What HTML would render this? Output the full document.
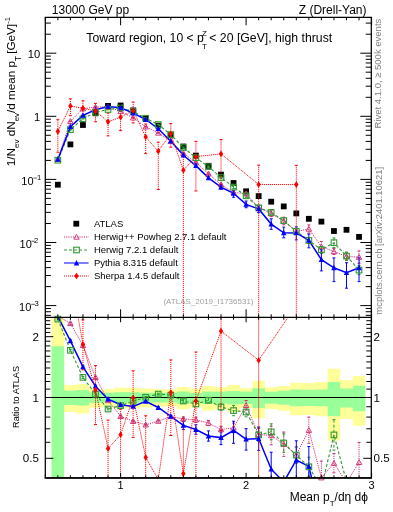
<!DOCTYPE html><html><head><meta charset="utf-8"><style>html,body{margin:0;padding:0;background:#fff;width:393px;height:512px;overflow:hidden}svg{display:block;will-change:transform}text{font-family:"Liberation Sans",sans-serif}</style></head><body>
<svg width="393" height="512" viewBox="0 0 393 512">
<defs><clipPath id="cu"><rect x="45.3" y="17.3" width="326.0" height="300.0"/></clipPath><clipPath id="cr"><rect x="45.3" y="317.3" width="326.0" height="160.5"/></clipPath></defs>
<g clip-path="url(#cr)">
<path d="M51.57,275.88 L64.12,275.88 L64.12,385.01 L76.67,385.01 L76.67,384.03 L89.22,384.03 L89.22,388.34 L101.78,388.34 L101.77,389.30 L114.33,389.30 L114.32,387.71 L126.88,387.71 L126.88,387.71 L139.43,387.71 L139.42,388.42 L151.97,388.42 L151.97,388.98 L164.53,388.98 L164.52,389.62 L177.07,389.62 L177.07,387.09 L189.62,387.09 L189.62,388.82 L202.18,388.82 L202.18,386.01 L214.73,386.01 L214.73,387.32 L227.28,387.32 L227.27,385.01 L239.82,385.01 L239.82,388.19 L252.38,388.19 L252.38,380.70 L264.93,380.70 L264.93,387.32 L277.48,387.32 L277.48,386.01 L290.02,386.01 L290.03,382.76 L302.57,382.76 L302.58,382.91 L315.12,382.91 L315.13,382.02 L327.68,382.02 L327.68,368.80 L340.23,368.80 L340.23,380.20 L352.77,380.20 L352.78,376.12 L365.32,376.12 L365.32,425.83 L352.78,425.83 L352.77,419.07 L340.23,419.07 L340.23,440.43 L327.68,440.43 L327.68,416.31 L315.13,416.31 L315.12,415.02 L302.58,415.02 L302.57,415.23 L290.03,415.23 L290.02,410.73 L277.48,410.73 L277.48,409.01 L264.93,409.01 L264.93,418.29 L252.38,418.29 L252.38,407.92 L239.82,407.92 L239.82,412.07 L227.27,412.07 L227.28,409.01 L214.73,409.01 L214.73,410.73 L202.18,410.73 L202.18,407.13 L189.62,407.13 L189.62,409.31 L177.07,409.31 L177.07,406.16 L164.52,406.16 L164.53,406.94 L151.97,406.94 L151.97,407.62 L139.42,407.62 L139.43,408.52 L126.88,408.52 L126.88,408.52 L114.32,408.52 L114.33,406.55 L101.77,406.55 L101.78,407.72 L89.22,407.72 L89.22,413.42 L76.67,413.42 L76.67,412.07 L64.12,412.07 L64.12,600.00 L51.57,600.00 Z" fill="#ffff99"/>
<path d="M51.57,346.33 L64.12,346.33 L64.12,390.59 L76.67,390.59 L76.67,390.10 L89.22,390.10 L89.22,392.22 L101.78,392.22 L101.77,392.80 L114.33,392.80 L114.32,392.22 L126.88,392.22 L126.88,392.22 L139.43,392.22 L139.42,392.80 L151.97,392.80 L151.97,392.80 L164.53,392.80 L164.52,392.80 L177.07,392.80 L177.07,391.48 L189.62,391.48 L189.62,392.97 L202.18,392.97 L202.18,391.48 L214.73,391.48 L214.73,391.81 L227.28,391.81 L227.27,391.07 L239.82,391.07 L239.82,391.40 L252.38,391.40 L252.38,388.19 L264.93,388.19 L264.93,391.73 L277.48,391.73 L277.48,390.83 L290.02,390.83 L290.03,389.62 L302.57,389.62 L302.58,389.70 L315.12,389.70 L315.13,389.54 L327.68,389.54 L327.68,382.02 L340.23,382.02 L340.23,388.42 L352.77,388.42 L352.78,385.70 L365.32,385.70 L365.32,411.14 L352.78,411.14 L352.77,407.62 L340.23,407.62 L340.23,416.31 L327.68,416.31 L327.68,406.26 L315.13,406.26 L315.12,406.06 L302.58,406.06 L302.57,406.16 L290.03,406.16 L290.02,404.72 L277.48,404.72 L277.48,403.68 L264.93,403.68 L264.93,407.92 L252.38,407.92 L252.38,404.06 L239.82,404.06 L239.82,404.43 L227.27,404.43 L227.28,403.58 L214.73,403.58 L214.73,403.96 L202.18,403.96 L202.18,402.28 L189.62,402.28 L189.62,403.96 L177.07,403.96 L177.07,402.46 L164.52,402.46 L164.53,402.46 L151.97,402.46 L151.97,402.46 L139.42,402.46 L139.43,403.12 L126.88,403.12 L126.88,403.12 L114.32,403.12 L114.33,402.46 L101.77,402.46 L101.78,403.12 L89.22,403.12 L89.22,405.58 L76.67,405.58 L76.67,405.01 L64.12,405.01 L64.12,535.25 L51.57,535.25 Z" fill="#99ff99"/>
<line x1="45.3" y1="397.5" x2="371.3" y2="397.5" stroke="#000" stroke-width="1.1"/>
</g>
<rect x="54.95" y="181.80" width="5.8" height="5.8" fill="#000"/>
<rect x="67.50" y="141.50" width="5.8" height="5.8" fill="#000"/>
<rect x="80.05" y="122.10" width="5.8" height="5.8" fill="#000"/>
<rect x="92.60" y="110.40" width="5.8" height="5.8" fill="#000"/>
<rect x="105.15" y="103.00" width="5.8" height="5.8" fill="#000"/>
<rect x="117.70" y="102.60" width="5.8" height="5.8" fill="#000"/>
<rect x="130.25" y="107.50" width="5.8" height="5.8" fill="#000"/>
<rect x="142.80" y="115.40" width="5.8" height="5.8" fill="#000"/>
<rect x="155.35" y="122.70" width="5.8" height="5.8" fill="#000"/>
<rect x="167.90" y="132.40" width="5.8" height="5.8" fill="#000"/>
<rect x="180.45" y="143.60" width="5.8" height="5.8" fill="#000"/>
<rect x="193.00" y="152.70" width="5.8" height="5.8" fill="#000"/>
<rect x="205.55" y="162.90" width="5.8" height="5.8" fill="#000"/>
<rect x="218.10" y="171.70" width="5.8" height="5.8" fill="#000"/>
<rect x="230.65" y="180.10" width="5.8" height="5.8" fill="#000"/>
<rect x="243.20" y="188.40" width="5.8" height="5.8" fill="#000"/>
<rect x="255.75" y="193.20" width="5.8" height="5.8" fill="#000"/>
<rect x="268.30" y="198.80" width="5.8" height="5.8" fill="#000"/>
<rect x="280.85" y="203.50" width="5.8" height="5.8" fill="#000"/>
<rect x="293.40" y="210.50" width="5.8" height="5.8" fill="#000"/>
<rect x="305.95" y="215.90" width="5.8" height="5.8" fill="#000"/>
<rect x="318.50" y="218.70" width="5.8" height="5.8" fill="#000"/>
<rect x="331.05" y="228.10" width="5.8" height="5.8" fill="#000"/>
<rect x="343.60" y="226.90" width="5.8" height="5.8" fill="#000"/>
<rect x="356.15" y="234.00" width="5.8" height="5.8" fill="#000"/>
<g clip-path="url(#cr)">
<path d="M57.85,315.87 L70.40,323.40 L82.95,345.30 L95.50,377.40 L108.05,400.50 L120.60,416.30 L133.15,421.30 L145.70,424.80 L158.25,421.10 L170.80,416.50 L183.35,418.90 L195.90,419.80 L208.45,423.00 L221.00,429.50 L233.55,427.90 L246.10,405.30 L258.65,434.40 L271.20,435.50 L283.75,444.20 L296.30,455.00 L308.85,430.20 L321.40,477.70 L333.95,463.20 L346.50,482.65 L359.05,462.30" fill="none" stroke="#cc3377" stroke-width="1.0" stroke-dasharray="1.2,1.0"/>
<line x1="70.40" y1="322.44" x2="70.40" y2="324.36" stroke="#cc3377" stroke-width="1" stroke-dasharray="1.2,1.0"/>
<line x1="68.90" y1="322.44" x2="71.90" y2="322.44" stroke="#cc3377" stroke-width="1"/>
<line x1="68.90" y1="324.36" x2="71.90" y2="324.36" stroke="#cc3377" stroke-width="1"/>
<line x1="82.95" y1="344.34" x2="82.95" y2="346.26" stroke="#cc3377" stroke-width="1" stroke-dasharray="1.2,1.0"/>
<line x1="81.45" y1="344.34" x2="84.45" y2="344.34" stroke="#cc3377" stroke-width="1"/>
<line x1="81.45" y1="346.26" x2="84.45" y2="346.26" stroke="#cc3377" stroke-width="1"/>
<line x1="95.50" y1="376.44" x2="95.50" y2="378.36" stroke="#cc3377" stroke-width="1" stroke-dasharray="1.2,1.0"/>
<line x1="94.00" y1="376.44" x2="97.00" y2="376.44" stroke="#cc3377" stroke-width="1"/>
<line x1="94.00" y1="378.36" x2="97.00" y2="378.36" stroke="#cc3377" stroke-width="1"/>
<line x1="108.05" y1="399.54" x2="108.05" y2="401.46" stroke="#cc3377" stroke-width="1" stroke-dasharray="1.2,1.0"/>
<line x1="106.55" y1="399.54" x2="109.55" y2="399.54" stroke="#cc3377" stroke-width="1"/>
<line x1="106.55" y1="401.46" x2="109.55" y2="401.46" stroke="#cc3377" stroke-width="1"/>
<line x1="120.60" y1="415.34" x2="120.60" y2="417.26" stroke="#cc3377" stroke-width="1" stroke-dasharray="1.2,1.0"/>
<line x1="119.10" y1="415.34" x2="122.10" y2="415.34" stroke="#cc3377" stroke-width="1"/>
<line x1="119.10" y1="417.26" x2="122.10" y2="417.26" stroke="#cc3377" stroke-width="1"/>
<line x1="133.15" y1="420.34" x2="133.15" y2="422.26" stroke="#cc3377" stroke-width="1" stroke-dasharray="1.2,1.0"/>
<line x1="131.65" y1="420.34" x2="134.65" y2="420.34" stroke="#cc3377" stroke-width="1"/>
<line x1="131.65" y1="422.26" x2="134.65" y2="422.26" stroke="#cc3377" stroke-width="1"/>
<line x1="145.70" y1="423.84" x2="145.70" y2="425.76" stroke="#cc3377" stroke-width="1" stroke-dasharray="1.2,1.0"/>
<line x1="144.20" y1="423.84" x2="147.20" y2="423.84" stroke="#cc3377" stroke-width="1"/>
<line x1="144.20" y1="425.76" x2="147.20" y2="425.76" stroke="#cc3377" stroke-width="1"/>
<line x1="158.25" y1="420.14" x2="158.25" y2="422.06" stroke="#cc3377" stroke-width="1" stroke-dasharray="1.2,1.0"/>
<line x1="156.75" y1="420.14" x2="159.75" y2="420.14" stroke="#cc3377" stroke-width="1"/>
<line x1="156.75" y1="422.06" x2="159.75" y2="422.06" stroke="#cc3377" stroke-width="1"/>
<line x1="170.80" y1="415.54" x2="170.80" y2="417.46" stroke="#cc3377" stroke-width="1" stroke-dasharray="1.2,1.0"/>
<line x1="169.30" y1="415.54" x2="172.30" y2="415.54" stroke="#cc3377" stroke-width="1"/>
<line x1="169.30" y1="417.46" x2="172.30" y2="417.46" stroke="#cc3377" stroke-width="1"/>
<line x1="183.35" y1="416.98" x2="183.35" y2="420.82" stroke="#cc3377" stroke-width="1" stroke-dasharray="1.2,1.0"/>
<line x1="181.85" y1="416.98" x2="184.85" y2="416.98" stroke="#cc3377" stroke-width="1"/>
<line x1="181.85" y1="420.82" x2="184.85" y2="420.82" stroke="#cc3377" stroke-width="1"/>
<line x1="195.90" y1="417.24" x2="195.90" y2="422.36" stroke="#cc3377" stroke-width="1" stroke-dasharray="1.2,1.0"/>
<line x1="194.40" y1="417.24" x2="197.40" y2="417.24" stroke="#cc3377" stroke-width="1"/>
<line x1="194.40" y1="422.36" x2="197.40" y2="422.36" stroke="#cc3377" stroke-width="1"/>
<line x1="208.45" y1="420.44" x2="208.45" y2="425.56" stroke="#cc3377" stroke-width="1" stroke-dasharray="1.2,1.0"/>
<line x1="206.95" y1="420.44" x2="209.95" y2="420.44" stroke="#cc3377" stroke-width="1"/>
<line x1="206.95" y1="425.56" x2="209.95" y2="425.56" stroke="#cc3377" stroke-width="1"/>
<line x1="221.00" y1="426.30" x2="221.00" y2="432.70" stroke="#cc3377" stroke-width="1" stroke-dasharray="1.2,1.0"/>
<line x1="219.50" y1="426.30" x2="222.50" y2="426.30" stroke="#cc3377" stroke-width="1"/>
<line x1="219.50" y1="432.70" x2="222.50" y2="432.70" stroke="#cc3377" stroke-width="1"/>
<line x1="233.55" y1="423.10" x2="233.55" y2="432.70" stroke="#cc3377" stroke-width="1" stroke-dasharray="1.2,1.0"/>
<line x1="232.05" y1="423.10" x2="235.05" y2="423.10" stroke="#cc3377" stroke-width="1"/>
<line x1="232.05" y1="432.70" x2="235.05" y2="432.70" stroke="#cc3377" stroke-width="1"/>
<line x1="246.10" y1="400.50" x2="246.10" y2="410.10" stroke="#cc3377" stroke-width="1" stroke-dasharray="1.2,1.0"/>
<line x1="244.60" y1="400.50" x2="247.60" y2="400.50" stroke="#cc3377" stroke-width="1"/>
<line x1="244.60" y1="410.10" x2="247.60" y2="410.10" stroke="#cc3377" stroke-width="1"/>
<line x1="258.65" y1="428.00" x2="258.65" y2="440.80" stroke="#cc3377" stroke-width="1" stroke-dasharray="1.2,1.0"/>
<line x1="257.15" y1="428.00" x2="260.15" y2="428.00" stroke="#cc3377" stroke-width="1"/>
<line x1="257.15" y1="440.80" x2="260.15" y2="440.80" stroke="#cc3377" stroke-width="1"/>
<line x1="271.20" y1="426.22" x2="271.20" y2="444.78" stroke="#cc3377" stroke-width="1" stroke-dasharray="1.2,1.0"/>
<line x1="269.70" y1="426.22" x2="272.70" y2="426.22" stroke="#cc3377" stroke-width="1"/>
<line x1="269.70" y1="444.78" x2="272.70" y2="444.78" stroke="#cc3377" stroke-width="1"/>
<line x1="283.75" y1="432.04" x2="283.75" y2="456.36" stroke="#cc3377" stroke-width="1" stroke-dasharray="1.2,1.0"/>
<line x1="282.25" y1="432.04" x2="285.25" y2="432.04" stroke="#cc3377" stroke-width="1"/>
<line x1="282.25" y1="456.36" x2="285.25" y2="456.36" stroke="#cc3377" stroke-width="1"/>
<line x1="296.30" y1="447.00" x2="296.30" y2="463.00" stroke="#cc3377" stroke-width="1" stroke-dasharray="1.2,1.0"/>
<line x1="294.80" y1="447.00" x2="297.80" y2="447.00" stroke="#cc3377" stroke-width="1"/>
<line x1="294.80" y1="463.00" x2="297.80" y2="463.00" stroke="#cc3377" stroke-width="1"/>
<line x1="308.85" y1="417.07" x2="308.85" y2="443.33" stroke="#cc3377" stroke-width="1" stroke-dasharray="1.2,1.0"/>
<line x1="307.35" y1="417.07" x2="310.35" y2="417.07" stroke="#cc3377" stroke-width="1"/>
<line x1="307.35" y1="443.33" x2="310.35" y2="443.33" stroke="#cc3377" stroke-width="1"/>
<line x1="321.40" y1="461.05" x2="321.40" y2="494.35" stroke="#cc3377" stroke-width="1" stroke-dasharray="1.2,1.0"/>
<line x1="319.90" y1="461.05" x2="322.90" y2="461.05" stroke="#cc3377" stroke-width="1"/>
<line x1="319.90" y1="494.35" x2="322.90" y2="494.35" stroke="#cc3377" stroke-width="1"/>
<line x1="333.95" y1="453.60" x2="333.95" y2="472.80" stroke="#cc3377" stroke-width="1" stroke-dasharray="1.2,1.0"/>
<line x1="332.45" y1="453.60" x2="335.45" y2="453.60" stroke="#cc3377" stroke-width="1"/>
<line x1="332.45" y1="472.80" x2="335.45" y2="472.80" stroke="#cc3377" stroke-width="1"/>
<line x1="359.05" y1="442.45" x2="359.05" y2="482.15" stroke="#cc3377" stroke-width="1" stroke-dasharray="1.2,1.0"/>
<line x1="357.55" y1="442.45" x2="360.55" y2="442.45" stroke="#cc3377" stroke-width="1"/>
<line x1="357.55" y1="482.15" x2="360.55" y2="482.15" stroke="#cc3377" stroke-width="1"/>
</g>
<g clip-path="url(#cr)">
<path d="M57.85,319.10 L70.40,350.30 L82.95,377.40 L95.50,394.20 L108.05,409.00 L120.60,405.60 L133.15,401.20 L145.70,397.30 L158.25,394.10 L170.80,395.10 L183.35,401.00 L195.90,404.00 L208.45,400.30 L221.00,407.00 L233.55,410.60 L246.10,412.00 L258.65,435.00 L271.20,431.80 L283.75,443.00 L296.30,455.10 L308.85,466.80 L321.40,487.78 L333.95,434.90 L346.50,481.69 L359.05,503.78" fill="none" stroke="#339933" stroke-width="1.1" stroke-dasharray="3,2"/>
<line x1="57.85" y1="318.14" x2="57.85" y2="320.06" stroke="#339933" stroke-width="1" stroke-dasharray="3,2"/>
<line x1="56.35" y1="318.14" x2="59.35" y2="318.14" stroke="#339933" stroke-width="1"/>
<line x1="56.35" y1="320.06" x2="59.35" y2="320.06" stroke="#339933" stroke-width="1"/>
<line x1="70.40" y1="349.34" x2="70.40" y2="351.26" stroke="#339933" stroke-width="1" stroke-dasharray="3,2"/>
<line x1="68.90" y1="349.34" x2="71.90" y2="349.34" stroke="#339933" stroke-width="1"/>
<line x1="68.90" y1="351.26" x2="71.90" y2="351.26" stroke="#339933" stroke-width="1"/>
<line x1="82.95" y1="376.44" x2="82.95" y2="378.36" stroke="#339933" stroke-width="1" stroke-dasharray="3,2"/>
<line x1="81.45" y1="376.44" x2="84.45" y2="376.44" stroke="#339933" stroke-width="1"/>
<line x1="81.45" y1="378.36" x2="84.45" y2="378.36" stroke="#339933" stroke-width="1"/>
<line x1="95.50" y1="393.24" x2="95.50" y2="395.16" stroke="#339933" stroke-width="1" stroke-dasharray="3,2"/>
<line x1="94.00" y1="393.24" x2="97.00" y2="393.24" stroke="#339933" stroke-width="1"/>
<line x1="94.00" y1="395.16" x2="97.00" y2="395.16" stroke="#339933" stroke-width="1"/>
<line x1="108.05" y1="408.04" x2="108.05" y2="409.96" stroke="#339933" stroke-width="1" stroke-dasharray="3,2"/>
<line x1="106.55" y1="408.04" x2="109.55" y2="408.04" stroke="#339933" stroke-width="1"/>
<line x1="106.55" y1="409.96" x2="109.55" y2="409.96" stroke="#339933" stroke-width="1"/>
<line x1="120.60" y1="404.64" x2="120.60" y2="406.56" stroke="#339933" stroke-width="1" stroke-dasharray="3,2"/>
<line x1="119.10" y1="404.64" x2="122.10" y2="404.64" stroke="#339933" stroke-width="1"/>
<line x1="119.10" y1="406.56" x2="122.10" y2="406.56" stroke="#339933" stroke-width="1"/>
<line x1="133.15" y1="400.24" x2="133.15" y2="402.16" stroke="#339933" stroke-width="1" stroke-dasharray="3,2"/>
<line x1="131.65" y1="400.24" x2="134.65" y2="400.24" stroke="#339933" stroke-width="1"/>
<line x1="131.65" y1="402.16" x2="134.65" y2="402.16" stroke="#339933" stroke-width="1"/>
<line x1="145.70" y1="396.34" x2="145.70" y2="398.26" stroke="#339933" stroke-width="1" stroke-dasharray="3,2"/>
<line x1="144.20" y1="396.34" x2="147.20" y2="396.34" stroke="#339933" stroke-width="1"/>
<line x1="144.20" y1="398.26" x2="147.20" y2="398.26" stroke="#339933" stroke-width="1"/>
<line x1="158.25" y1="393.14" x2="158.25" y2="395.06" stroke="#339933" stroke-width="1" stroke-dasharray="3,2"/>
<line x1="156.75" y1="393.14" x2="159.75" y2="393.14" stroke="#339933" stroke-width="1"/>
<line x1="156.75" y1="395.06" x2="159.75" y2="395.06" stroke="#339933" stroke-width="1"/>
<line x1="170.80" y1="394.14" x2="170.80" y2="396.06" stroke="#339933" stroke-width="1" stroke-dasharray="3,2"/>
<line x1="169.30" y1="394.14" x2="172.30" y2="394.14" stroke="#339933" stroke-width="1"/>
<line x1="169.30" y1="396.06" x2="172.30" y2="396.06" stroke="#339933" stroke-width="1"/>
<line x1="183.35" y1="399.08" x2="183.35" y2="402.92" stroke="#339933" stroke-width="1" stroke-dasharray="3,2"/>
<line x1="181.85" y1="399.08" x2="184.85" y2="399.08" stroke="#339933" stroke-width="1"/>
<line x1="181.85" y1="402.92" x2="184.85" y2="402.92" stroke="#339933" stroke-width="1"/>
<line x1="195.90" y1="401.44" x2="195.90" y2="406.56" stroke="#339933" stroke-width="1" stroke-dasharray="3,2"/>
<line x1="194.40" y1="401.44" x2="197.40" y2="401.44" stroke="#339933" stroke-width="1"/>
<line x1="194.40" y1="406.56" x2="197.40" y2="406.56" stroke="#339933" stroke-width="1"/>
<line x1="208.45" y1="397.74" x2="208.45" y2="402.86" stroke="#339933" stroke-width="1" stroke-dasharray="3,2"/>
<line x1="206.95" y1="397.74" x2="209.95" y2="397.74" stroke="#339933" stroke-width="1"/>
<line x1="206.95" y1="402.86" x2="209.95" y2="402.86" stroke="#339933" stroke-width="1"/>
<line x1="221.00" y1="403.80" x2="221.00" y2="410.20" stroke="#339933" stroke-width="1" stroke-dasharray="3,2"/>
<line x1="219.50" y1="403.80" x2="222.50" y2="403.80" stroke="#339933" stroke-width="1"/>
<line x1="219.50" y1="410.20" x2="222.50" y2="410.20" stroke="#339933" stroke-width="1"/>
<line x1="233.55" y1="405.48" x2="233.55" y2="415.72" stroke="#339933" stroke-width="1" stroke-dasharray="3,2"/>
<line x1="232.05" y1="405.48" x2="235.05" y2="405.48" stroke="#339933" stroke-width="1"/>
<line x1="232.05" y1="415.72" x2="235.05" y2="415.72" stroke="#339933" stroke-width="1"/>
<line x1="246.10" y1="407.20" x2="246.10" y2="416.80" stroke="#339933" stroke-width="1" stroke-dasharray="3,2"/>
<line x1="244.60" y1="407.20" x2="247.60" y2="407.20" stroke="#339933" stroke-width="1"/>
<line x1="244.60" y1="416.80" x2="247.60" y2="416.80" stroke="#339933" stroke-width="1"/>
<line x1="258.65" y1="428.60" x2="258.65" y2="441.40" stroke="#339933" stroke-width="1" stroke-dasharray="3,2"/>
<line x1="257.15" y1="428.60" x2="260.15" y2="428.60" stroke="#339933" stroke-width="1"/>
<line x1="257.15" y1="441.40" x2="260.15" y2="441.40" stroke="#339933" stroke-width="1"/>
<line x1="271.20" y1="423.80" x2="271.20" y2="439.80" stroke="#339933" stroke-width="1" stroke-dasharray="3,2"/>
<line x1="269.70" y1="423.80" x2="272.70" y2="423.80" stroke="#339933" stroke-width="1"/>
<line x1="269.70" y1="439.80" x2="272.70" y2="439.80" stroke="#339933" stroke-width="1"/>
<line x1="283.75" y1="433.72" x2="283.75" y2="452.28" stroke="#339933" stroke-width="1" stroke-dasharray="3,2"/>
<line x1="282.25" y1="433.72" x2="285.25" y2="433.72" stroke="#339933" stroke-width="1"/>
<line x1="282.25" y1="452.28" x2="285.25" y2="452.28" stroke="#339933" stroke-width="1"/>
<line x1="296.30" y1="447.10" x2="296.30" y2="463.10" stroke="#339933" stroke-width="1" stroke-dasharray="3,2"/>
<line x1="294.80" y1="447.10" x2="297.80" y2="447.10" stroke="#339933" stroke-width="1"/>
<line x1="294.80" y1="463.10" x2="297.80" y2="463.10" stroke="#339933" stroke-width="1"/>
<line x1="308.85" y1="457.20" x2="308.85" y2="476.40" stroke="#339933" stroke-width="1" stroke-dasharray="3,2"/>
<line x1="307.35" y1="457.20" x2="310.35" y2="457.20" stroke="#339933" stroke-width="1"/>
<line x1="307.35" y1="476.40" x2="310.35" y2="476.40" stroke="#339933" stroke-width="1"/>
<line x1="333.95" y1="419.69" x2="333.95" y2="450.11" stroke="#339933" stroke-width="1" stroke-dasharray="3,2"/>
<line x1="332.45" y1="419.69" x2="335.45" y2="419.69" stroke="#339933" stroke-width="1"/>
<line x1="332.45" y1="450.11" x2="335.45" y2="450.11" stroke="#339933" stroke-width="1"/>
</g>
<g clip-path="url(#cr)">
<path d="M57.85,316.50 L70.40,340.80 L82.95,366.80 L95.50,386.20 L108.05,399.20 L120.60,404.80 L133.15,406.40 L145.70,401.30 L158.25,407.50 L170.80,416.40 L183.35,425.40 L195.90,429.50 L208.45,436.00 L221.00,437.60 L233.55,430.50 L246.10,439.20 L258.65,438.50 L271.20,469.20 L283.75,482.00 L296.30,460.00 L308.85,466.40 L321.40,519.15 L333.95,515.31 L346.50,534.51 L359.05,496.42" fill="none" stroke="#0000ff" stroke-width="1.5"/>
<line x1="70.40" y1="339.84" x2="70.40" y2="341.76" stroke="#0000ff" stroke-width="1"/>
<line x1="68.90" y1="339.84" x2="71.90" y2="339.84" stroke="#0000ff" stroke-width="1"/>
<line x1="68.90" y1="341.76" x2="71.90" y2="341.76" stroke="#0000ff" stroke-width="1"/>
<line x1="82.95" y1="365.84" x2="82.95" y2="367.76" stroke="#0000ff" stroke-width="1"/>
<line x1="81.45" y1="365.84" x2="84.45" y2="365.84" stroke="#0000ff" stroke-width="1"/>
<line x1="81.45" y1="367.76" x2="84.45" y2="367.76" stroke="#0000ff" stroke-width="1"/>
<line x1="95.50" y1="385.24" x2="95.50" y2="387.16" stroke="#0000ff" stroke-width="1"/>
<line x1="94.00" y1="385.24" x2="97.00" y2="385.24" stroke="#0000ff" stroke-width="1"/>
<line x1="94.00" y1="387.16" x2="97.00" y2="387.16" stroke="#0000ff" stroke-width="1"/>
<line x1="108.05" y1="398.24" x2="108.05" y2="400.16" stroke="#0000ff" stroke-width="1"/>
<line x1="106.55" y1="398.24" x2="109.55" y2="398.24" stroke="#0000ff" stroke-width="1"/>
<line x1="106.55" y1="400.16" x2="109.55" y2="400.16" stroke="#0000ff" stroke-width="1"/>
<line x1="120.60" y1="403.84" x2="120.60" y2="405.76" stroke="#0000ff" stroke-width="1"/>
<line x1="119.10" y1="403.84" x2="122.10" y2="403.84" stroke="#0000ff" stroke-width="1"/>
<line x1="119.10" y1="405.76" x2="122.10" y2="405.76" stroke="#0000ff" stroke-width="1"/>
<line x1="133.15" y1="405.44" x2="133.15" y2="407.36" stroke="#0000ff" stroke-width="1"/>
<line x1="131.65" y1="405.44" x2="134.65" y2="405.44" stroke="#0000ff" stroke-width="1"/>
<line x1="131.65" y1="407.36" x2="134.65" y2="407.36" stroke="#0000ff" stroke-width="1"/>
<line x1="145.70" y1="400.34" x2="145.70" y2="402.26" stroke="#0000ff" stroke-width="1"/>
<line x1="144.20" y1="400.34" x2="147.20" y2="400.34" stroke="#0000ff" stroke-width="1"/>
<line x1="144.20" y1="402.26" x2="147.20" y2="402.26" stroke="#0000ff" stroke-width="1"/>
<line x1="158.25" y1="406.54" x2="158.25" y2="408.46" stroke="#0000ff" stroke-width="1"/>
<line x1="156.75" y1="406.54" x2="159.75" y2="406.54" stroke="#0000ff" stroke-width="1"/>
<line x1="156.75" y1="408.46" x2="159.75" y2="408.46" stroke="#0000ff" stroke-width="1"/>
<line x1="170.80" y1="415.44" x2="170.80" y2="417.36" stroke="#0000ff" stroke-width="1"/>
<line x1="169.30" y1="415.44" x2="172.30" y2="415.44" stroke="#0000ff" stroke-width="1"/>
<line x1="169.30" y1="417.36" x2="172.30" y2="417.36" stroke="#0000ff" stroke-width="1"/>
<line x1="183.35" y1="421.40" x2="183.35" y2="429.40" stroke="#0000ff" stroke-width="1"/>
<line x1="181.85" y1="421.40" x2="184.85" y2="421.40" stroke="#0000ff" stroke-width="1"/>
<line x1="181.85" y1="429.40" x2="184.85" y2="429.40" stroke="#0000ff" stroke-width="1"/>
<line x1="195.90" y1="424.70" x2="195.90" y2="434.30" stroke="#0000ff" stroke-width="1"/>
<line x1="194.40" y1="424.70" x2="197.40" y2="424.70" stroke="#0000ff" stroke-width="1"/>
<line x1="194.40" y1="434.30" x2="197.40" y2="434.30" stroke="#0000ff" stroke-width="1"/>
<line x1="208.45" y1="430.88" x2="208.45" y2="441.12" stroke="#0000ff" stroke-width="1"/>
<line x1="206.95" y1="430.88" x2="209.95" y2="430.88" stroke="#0000ff" stroke-width="1"/>
<line x1="206.95" y1="441.12" x2="209.95" y2="441.12" stroke="#0000ff" stroke-width="1"/>
<line x1="221.00" y1="430.56" x2="221.00" y2="444.64" stroke="#0000ff" stroke-width="1"/>
<line x1="219.50" y1="430.56" x2="222.50" y2="430.56" stroke="#0000ff" stroke-width="1"/>
<line x1="219.50" y1="444.64" x2="222.50" y2="444.64" stroke="#0000ff" stroke-width="1"/>
<line x1="233.55" y1="421.22" x2="233.55" y2="443.31" stroke="#0000ff" stroke-width="1"/>
<line x1="232.05" y1="421.22" x2="235.05" y2="421.22" stroke="#0000ff" stroke-width="1"/>
<line x1="232.05" y1="443.31" x2="235.05" y2="443.31" stroke="#0000ff" stroke-width="1"/>
<line x1="246.10" y1="428.64" x2="246.10" y2="450.08" stroke="#0000ff" stroke-width="1"/>
<line x1="244.60" y1="428.64" x2="247.60" y2="428.64" stroke="#0000ff" stroke-width="1"/>
<line x1="244.60" y1="450.08" x2="247.60" y2="450.08" stroke="#0000ff" stroke-width="1"/>
<line x1="258.65" y1="426.98" x2="258.65" y2="450.34" stroke="#0000ff" stroke-width="1"/>
<line x1="257.15" y1="426.98" x2="260.15" y2="426.98" stroke="#0000ff" stroke-width="1"/>
<line x1="257.15" y1="450.34" x2="260.15" y2="450.34" stroke="#0000ff" stroke-width="1"/>
<line x1="271.20" y1="452.23" x2="271.20" y2="485.85" stroke="#0000ff" stroke-width="1"/>
<line x1="269.70" y1="452.23" x2="272.70" y2="452.23" stroke="#0000ff" stroke-width="1"/>
<line x1="269.70" y1="485.85" x2="272.70" y2="485.85" stroke="#0000ff" stroke-width="1"/>
<line x1="296.30" y1="440.79" x2="296.30" y2="482.41" stroke="#0000ff" stroke-width="1"/>
<line x1="294.80" y1="440.79" x2="297.80" y2="440.79" stroke="#0000ff" stroke-width="1"/>
<line x1="294.80" y1="482.41" x2="297.80" y2="482.41" stroke="#0000ff" stroke-width="1"/>
<line x1="308.85" y1="446.55" x2="308.85" y2="490.41" stroke="#0000ff" stroke-width="1"/>
<line x1="307.35" y1="446.55" x2="310.35" y2="446.55" stroke="#0000ff" stroke-width="1"/>
<line x1="307.35" y1="490.41" x2="310.35" y2="490.41" stroke="#0000ff" stroke-width="1"/>
</g>
<g clip-path="url(#cr)">
<path d="M57.85,226.87 L70.40,274.57 L82.95,344.20 L95.50,390.00 L108.05,448.60 L120.60,434.80 L133.15,397.70 L145.70,457.40 L158.25,479.50 L170.80,392.60 L183.35,473.60 L195.90,401.00 L221.00,331.10 L258.65,360.20 L296.30,305.30" fill="none" stroke="#ff0000" stroke-width="1.0" stroke-dasharray="1.1,0.9"/>
<line x1="82.95" y1="319.87" x2="82.95" y2="369.81" stroke="#ff0000" stroke-width="1" stroke-dasharray="1.1,0.9"/>
<line x1="81.45" y1="319.87" x2="84.45" y2="319.87" stroke="#ff0000" stroke-width="1"/>
<line x1="81.45" y1="369.81" x2="84.45" y2="369.81" stroke="#ff0000" stroke-width="1"/>
<line x1="95.50" y1="365.67" x2="95.50" y2="424.57" stroke="#ff0000" stroke-width="1" stroke-dasharray="1.1,0.9"/>
<line x1="94.00" y1="365.67" x2="97.00" y2="365.67" stroke="#ff0000" stroke-width="1"/>
<line x1="94.00" y1="424.57" x2="97.00" y2="424.57" stroke="#ff0000" stroke-width="1"/>
<line x1="108.05" y1="420.11" x2="108.05" y2="493.42" stroke="#ff0000" stroke-width="1" stroke-dasharray="1.1,0.9"/>
<line x1="106.55" y1="420.11" x2="109.55" y2="420.11" stroke="#ff0000" stroke-width="1"/>
<line x1="106.55" y1="493.42" x2="109.55" y2="493.42" stroke="#ff0000" stroke-width="1"/>
<line x1="120.60" y1="409.19" x2="120.60" y2="478.02" stroke="#ff0000" stroke-width="1" stroke-dasharray="1.1,0.9"/>
<line x1="119.10" y1="409.19" x2="122.10" y2="409.19" stroke="#ff0000" stroke-width="1"/>
<line x1="119.10" y1="478.02" x2="122.10" y2="478.02" stroke="#ff0000" stroke-width="1"/>
<line x1="133.15" y1="370.81" x2="133.15" y2="437.40" stroke="#ff0000" stroke-width="1" stroke-dasharray="1.1,0.9"/>
<line x1="131.65" y1="370.81" x2="134.65" y2="370.81" stroke="#ff0000" stroke-width="1"/>
<line x1="131.65" y1="437.40" x2="134.65" y2="437.40" stroke="#ff0000" stroke-width="1"/>
<line x1="145.70" y1="415.78" x2="145.70" y2="510.54" stroke="#ff0000" stroke-width="1" stroke-dasharray="1.1,0.9"/>
<line x1="144.20" y1="415.78" x2="147.20" y2="415.78" stroke="#ff0000" stroke-width="1"/>
<line x1="144.20" y1="510.54" x2="147.20" y2="510.54" stroke="#ff0000" stroke-width="1"/>
<line x1="170.80" y1="359.95" x2="170.80" y2="435.50" stroke="#ff0000" stroke-width="1" stroke-dasharray="1.1,0.9"/>
<line x1="169.30" y1="359.95" x2="172.30" y2="359.95" stroke="#ff0000" stroke-width="1"/>
<line x1="169.30" y1="435.50" x2="172.30" y2="435.50" stroke="#ff0000" stroke-width="1"/>
<line x1="183.35" y1="418.54" x2="183.35" y2="1472.60" stroke="#ff0000" stroke-width="1" stroke-dasharray="1.1,0.9"/>
<line x1="181.85" y1="418.54" x2="184.85" y2="418.54" stroke="#ff0000" stroke-width="1"/>
<line x1="181.85" y1="1472.60" x2="184.85" y2="1472.60" stroke="#ff0000" stroke-width="1"/>
<line x1="195.90" y1="352.02" x2="195.90" y2="510.80" stroke="#ff0000" stroke-width="1" stroke-dasharray="1.1,0.9"/>
<line x1="194.40" y1="352.02" x2="197.40" y2="352.02" stroke="#ff0000" stroke-width="1"/>
<line x1="194.40" y1="510.80" x2="197.40" y2="510.80" stroke="#ff0000" stroke-width="1"/>
<line x1="221.00" y1="285.32" x2="221.00" y2="430.34" stroke="#ff0000" stroke-width="1" stroke-dasharray="1.1,0.9"/>
<line x1="219.50" y1="285.32" x2="222.50" y2="285.32" stroke="#ff0000" stroke-width="1"/>
<line x1="219.50" y1="430.34" x2="222.50" y2="430.34" stroke="#ff0000" stroke-width="1"/>
<line x1="258.65" y1="298.42" x2="258.65" y2="1359.20" stroke="#ff0000" stroke-width="1" stroke-dasharray="1.1,0.9"/>
<line x1="257.15" y1="298.42" x2="260.15" y2="298.42" stroke="#ff0000" stroke-width="1"/>
<line x1="257.15" y1="1359.20" x2="260.15" y2="1359.20" stroke="#ff0000" stroke-width="1"/>
</g>
<path d="M70.40,320.70 L73.10,325.60 L67.70,325.60 Z" fill="none" stroke="#cc3377" stroke-width="0.95" stroke-linejoin="miter"/>
<path d="M82.95,342.60 L85.65,347.50 L80.25,347.50 Z" fill="none" stroke="#cc3377" stroke-width="0.95" stroke-linejoin="miter"/>
<path d="M95.50,374.70 L98.20,379.60 L92.80,379.60 Z" fill="none" stroke="#cc3377" stroke-width="0.95" stroke-linejoin="miter"/>
<path d="M108.05,397.80 L110.75,402.70 L105.35,402.70 Z" fill="none" stroke="#cc3377" stroke-width="0.95" stroke-linejoin="miter"/>
<path d="M120.60,413.60 L123.30,418.50 L117.90,418.50 Z" fill="none" stroke="#cc3377" stroke-width="0.95" stroke-linejoin="miter"/>
<path d="M133.15,418.60 L135.85,423.50 L130.45,423.50 Z" fill="none" stroke="#cc3377" stroke-width="0.95" stroke-linejoin="miter"/>
<path d="M145.70,422.10 L148.40,427.00 L143.00,427.00 Z" fill="none" stroke="#cc3377" stroke-width="0.95" stroke-linejoin="miter"/>
<path d="M158.25,418.40 L160.95,423.30 L155.55,423.30 Z" fill="none" stroke="#cc3377" stroke-width="0.95" stroke-linejoin="miter"/>
<path d="M170.80,413.80 L173.50,418.70 L168.10,418.70 Z" fill="none" stroke="#cc3377" stroke-width="0.95" stroke-linejoin="miter"/>
<path d="M183.35,416.20 L186.05,421.10 L180.65,421.10 Z" fill="none" stroke="#cc3377" stroke-width="0.95" stroke-linejoin="miter"/>
<path d="M195.90,417.10 L198.60,422.00 L193.20,422.00 Z" fill="none" stroke="#cc3377" stroke-width="0.95" stroke-linejoin="miter"/>
<path d="M208.45,420.30 L211.15,425.20 L205.75,425.20 Z" fill="none" stroke="#cc3377" stroke-width="0.95" stroke-linejoin="miter"/>
<path d="M221.00,426.80 L223.70,431.70 L218.30,431.70 Z" fill="none" stroke="#cc3377" stroke-width="0.95" stroke-linejoin="miter"/>
<path d="M233.55,425.20 L236.25,430.10 L230.85,430.10 Z" fill="none" stroke="#cc3377" stroke-width="0.95" stroke-linejoin="miter"/>
<path d="M246.10,402.60 L248.80,407.50 L243.40,407.50 Z" fill="none" stroke="#cc3377" stroke-width="0.95" stroke-linejoin="miter"/>
<path d="M258.65,431.70 L261.35,436.60 L255.95,436.60 Z" fill="none" stroke="#cc3377" stroke-width="0.95" stroke-linejoin="miter"/>
<path d="M271.20,432.80 L273.90,437.70 L268.50,437.70 Z" fill="none" stroke="#cc3377" stroke-width="0.95" stroke-linejoin="miter"/>
<path d="M283.75,441.50 L286.45,446.40 L281.05,446.40 Z" fill="none" stroke="#cc3377" stroke-width="0.95" stroke-linejoin="miter"/>
<path d="M296.30,452.30 L299.00,457.20 L293.60,457.20 Z" fill="none" stroke="#cc3377" stroke-width="0.95" stroke-linejoin="miter"/>
<path d="M308.85,427.50 L311.55,432.40 L306.15,432.40 Z" fill="none" stroke="#cc3377" stroke-width="0.95" stroke-linejoin="miter"/>
<path d="M321.40,475.00 L324.10,479.90 L318.70,479.90 Z" fill="none" stroke="#cc3377" stroke-width="0.95" stroke-linejoin="miter"/>
<path d="M333.95,460.50 L336.65,465.40 L331.25,465.40 Z" fill="none" stroke="#cc3377" stroke-width="0.95" stroke-linejoin="miter"/>
<path d="M359.05,459.60 L361.75,464.50 L356.35,464.50 Z" fill="none" stroke="#cc3377" stroke-width="0.95" stroke-linejoin="miter"/>
<rect x="55.05" y="316.30" width="5.6" height="5.6" fill="none" stroke="#339933" stroke-width="1.1"/>
<rect x="67.60" y="347.50" width="5.6" height="5.6" fill="none" stroke="#339933" stroke-width="1.1"/>
<rect x="80.15" y="374.60" width="5.6" height="5.6" fill="none" stroke="#339933" stroke-width="1.1"/>
<rect x="92.70" y="391.40" width="5.6" height="5.6" fill="none" stroke="#339933" stroke-width="1.1"/>
<rect x="105.25" y="406.20" width="5.6" height="5.6" fill="none" stroke="#339933" stroke-width="1.1"/>
<rect x="117.80" y="402.80" width="5.6" height="5.6" fill="none" stroke="#339933" stroke-width="1.1"/>
<rect x="130.35" y="398.40" width="5.6" height="5.6" fill="none" stroke="#339933" stroke-width="1.1"/>
<rect x="142.90" y="394.50" width="5.6" height="5.6" fill="none" stroke="#339933" stroke-width="1.1"/>
<rect x="155.45" y="391.30" width="5.6" height="5.6" fill="none" stroke="#339933" stroke-width="1.1"/>
<rect x="168.00" y="392.30" width="5.6" height="5.6" fill="none" stroke="#339933" stroke-width="1.1"/>
<rect x="180.55" y="398.20" width="5.6" height="5.6" fill="none" stroke="#339933" stroke-width="1.1"/>
<rect x="193.10" y="401.20" width="5.6" height="5.6" fill="none" stroke="#339933" stroke-width="1.1"/>
<rect x="205.65" y="397.50" width="5.6" height="5.6" fill="none" stroke="#339933" stroke-width="1.1"/>
<rect x="218.20" y="404.20" width="5.6" height="5.6" fill="none" stroke="#339933" stroke-width="1.1"/>
<rect x="230.75" y="407.80" width="5.6" height="5.6" fill="none" stroke="#339933" stroke-width="1.1"/>
<rect x="243.30" y="409.20" width="5.6" height="5.6" fill="none" stroke="#339933" stroke-width="1.1"/>
<rect x="255.85" y="432.20" width="5.6" height="5.6" fill="none" stroke="#339933" stroke-width="1.1"/>
<rect x="268.40" y="429.00" width="5.6" height="5.6" fill="none" stroke="#339933" stroke-width="1.1"/>
<rect x="280.95" y="440.20" width="5.6" height="5.6" fill="none" stroke="#339933" stroke-width="1.1"/>
<rect x="293.50" y="452.30" width="5.6" height="5.6" fill="none" stroke="#339933" stroke-width="1.1"/>
<rect x="306.05" y="464.00" width="5.6" height="5.6" fill="none" stroke="#339933" stroke-width="1.1"/>
<rect x="331.15" y="432.10" width="5.6" height="5.6" fill="none" stroke="#339933" stroke-width="1.1"/>
<path d="M70.40,337.70 L73.10,343.20 L67.70,343.20 Z" fill="#0000ff"/>
<path d="M82.95,363.70 L85.65,369.20 L80.25,369.20 Z" fill="#0000ff"/>
<path d="M95.50,383.10 L98.20,388.60 L92.80,388.60 Z" fill="#0000ff"/>
<path d="M108.05,396.10 L110.75,401.60 L105.35,401.60 Z" fill="#0000ff"/>
<path d="M120.60,401.70 L123.30,407.20 L117.90,407.20 Z" fill="#0000ff"/>
<path d="M133.15,403.30 L135.85,408.80 L130.45,408.80 Z" fill="#0000ff"/>
<path d="M145.70,398.20 L148.40,403.70 L143.00,403.70 Z" fill="#0000ff"/>
<path d="M158.25,404.40 L160.95,409.90 L155.55,409.90 Z" fill="#0000ff"/>
<path d="M170.80,413.30 L173.50,418.80 L168.10,418.80 Z" fill="#0000ff"/>
<path d="M183.35,422.30 L186.05,427.80 L180.65,427.80 Z" fill="#0000ff"/>
<path d="M195.90,426.40 L198.60,431.90 L193.20,431.90 Z" fill="#0000ff"/>
<path d="M208.45,432.90 L211.15,438.40 L205.75,438.40 Z" fill="#0000ff"/>
<path d="M221.00,434.50 L223.70,440.00 L218.30,440.00 Z" fill="#0000ff"/>
<path d="M233.55,427.40 L236.25,432.90 L230.85,432.90 Z" fill="#0000ff"/>
<path d="M246.10,436.10 L248.80,441.60 L243.40,441.60 Z" fill="#0000ff"/>
<path d="M258.65,435.40 L261.35,440.90 L255.95,440.90 Z" fill="#0000ff"/>
<path d="M271.20,466.10 L273.90,471.60 L268.50,471.60 Z" fill="#0000ff"/>
<path d="M296.30,456.90 L299.00,462.40 L293.60,462.40 Z" fill="#0000ff"/>
<path d="M308.85,463.30 L311.55,468.80 L306.15,468.80 Z" fill="#0000ff"/>
<path d="M82.95,340.90 L85.15,344.20 L82.95,347.50 L80.75,344.20 Z" fill="#ff0000"/>
<path d="M95.50,386.70 L97.70,390.00 L95.50,393.30 L93.30,390.00 Z" fill="#ff0000"/>
<path d="M108.05,445.30 L110.25,448.60 L108.05,451.90 L105.85,448.60 Z" fill="#ff0000"/>
<path d="M120.60,431.50 L122.80,434.80 L120.60,438.10 L118.40,434.80 Z" fill="#ff0000"/>
<path d="M133.15,394.40 L135.35,397.70 L133.15,401.00 L130.95,397.70 Z" fill="#ff0000"/>
<path d="M145.70,454.10 L147.90,457.40 L145.70,460.70 L143.50,457.40 Z" fill="#ff0000"/>
<path d="M170.80,389.30 L173.00,392.60 L170.80,395.90 L168.60,392.60 Z" fill="#ff0000"/>
<path d="M183.35,470.30 L185.55,473.60 L183.35,476.90 L181.15,473.60 Z" fill="#ff0000"/>
<path d="M195.90,397.70 L198.10,401.00 L195.90,404.30 L193.70,401.00 Z" fill="#ff0000"/>
<path d="M221.00,327.80 L223.20,331.10 L221.00,334.40 L218.80,331.10 Z" fill="#ff0000"/>
<path d="M258.65,356.90 L260.85,360.20 L258.65,363.50 L256.45,360.20 Z" fill="#ff0000"/>
<g clip-path="url(#cu)">
<path d="M57.85,159.20 L70.40,121.25 L82.95,108.69 L95.50,107.02 L108.05,106.84 L120.60,111.37 L133.15,117.83 L145.70,126.83 L158.25,132.97 L170.80,141.24 L183.35,153.18 L195.90,162.57 L208.45,173.77 L221.00,184.60 L233.55,192.50 L246.10,193.74 L258.65,207.63 L271.20,213.57 L283.75,220.99 L296.30,231.36 L308.85,229.01 L321.40,246.65 L333.95,251.52 L346.50,256.40 L359.05,257.14" fill="none" stroke="#cc3377" stroke-width="1.0" stroke-dasharray="1.2,1.0"/>
<line x1="57.85" y1="158.90" x2="57.85" y2="159.50" stroke="#cc3377" stroke-width="1" stroke-dasharray="1.2,1.0"/>
<line x1="56.35" y1="158.90" x2="59.35" y2="158.90" stroke="#cc3377" stroke-width="1"/>
<line x1="56.35" y1="159.50" x2="59.35" y2="159.50" stroke="#cc3377" stroke-width="1"/>
<line x1="70.40" y1="120.95" x2="70.40" y2="121.55" stroke="#cc3377" stroke-width="1" stroke-dasharray="1.2,1.0"/>
<line x1="68.90" y1="120.95" x2="71.90" y2="120.95" stroke="#cc3377" stroke-width="1"/>
<line x1="68.90" y1="121.55" x2="71.90" y2="121.55" stroke="#cc3377" stroke-width="1"/>
<line x1="82.95" y1="108.39" x2="82.95" y2="108.99" stroke="#cc3377" stroke-width="1" stroke-dasharray="1.2,1.0"/>
<line x1="81.45" y1="108.39" x2="84.45" y2="108.39" stroke="#cc3377" stroke-width="1"/>
<line x1="81.45" y1="108.99" x2="84.45" y2="108.99" stroke="#cc3377" stroke-width="1"/>
<line x1="95.50" y1="106.72" x2="95.50" y2="107.32" stroke="#cc3377" stroke-width="1" stroke-dasharray="1.2,1.0"/>
<line x1="94.00" y1="106.72" x2="97.00" y2="106.72" stroke="#cc3377" stroke-width="1"/>
<line x1="94.00" y1="107.32" x2="97.00" y2="107.32" stroke="#cc3377" stroke-width="1"/>
<line x1="108.05" y1="106.54" x2="108.05" y2="107.14" stroke="#cc3377" stroke-width="1" stroke-dasharray="1.2,1.0"/>
<line x1="106.55" y1="106.54" x2="109.55" y2="106.54" stroke="#cc3377" stroke-width="1"/>
<line x1="106.55" y1="107.14" x2="109.55" y2="107.14" stroke="#cc3377" stroke-width="1"/>
<line x1="120.60" y1="111.07" x2="120.60" y2="111.67" stroke="#cc3377" stroke-width="1" stroke-dasharray="1.2,1.0"/>
<line x1="119.10" y1="111.07" x2="122.10" y2="111.07" stroke="#cc3377" stroke-width="1"/>
<line x1="119.10" y1="111.67" x2="122.10" y2="111.67" stroke="#cc3377" stroke-width="1"/>
<line x1="133.15" y1="117.53" x2="133.15" y2="118.13" stroke="#cc3377" stroke-width="1" stroke-dasharray="1.2,1.0"/>
<line x1="131.65" y1="117.53" x2="134.65" y2="117.53" stroke="#cc3377" stroke-width="1"/>
<line x1="131.65" y1="118.13" x2="134.65" y2="118.13" stroke="#cc3377" stroke-width="1"/>
<line x1="145.70" y1="126.53" x2="145.70" y2="127.13" stroke="#cc3377" stroke-width="1" stroke-dasharray="1.2,1.0"/>
<line x1="144.20" y1="126.53" x2="147.20" y2="126.53" stroke="#cc3377" stroke-width="1"/>
<line x1="144.20" y1="127.13" x2="147.20" y2="127.13" stroke="#cc3377" stroke-width="1"/>
<line x1="158.25" y1="132.67" x2="158.25" y2="133.27" stroke="#cc3377" stroke-width="1" stroke-dasharray="1.2,1.0"/>
<line x1="156.75" y1="132.67" x2="159.75" y2="132.67" stroke="#cc3377" stroke-width="1"/>
<line x1="156.75" y1="133.27" x2="159.75" y2="133.27" stroke="#cc3377" stroke-width="1"/>
<line x1="170.80" y1="140.94" x2="170.80" y2="141.54" stroke="#cc3377" stroke-width="1" stroke-dasharray="1.2,1.0"/>
<line x1="169.30" y1="140.94" x2="172.30" y2="140.94" stroke="#cc3377" stroke-width="1"/>
<line x1="169.30" y1="141.54" x2="172.30" y2="141.54" stroke="#cc3377" stroke-width="1"/>
<line x1="183.35" y1="152.58" x2="183.35" y2="153.78" stroke="#cc3377" stroke-width="1" stroke-dasharray="1.2,1.0"/>
<line x1="181.85" y1="152.58" x2="184.85" y2="152.58" stroke="#cc3377" stroke-width="1"/>
<line x1="181.85" y1="153.78" x2="184.85" y2="153.78" stroke="#cc3377" stroke-width="1"/>
<line x1="195.90" y1="161.77" x2="195.90" y2="163.37" stroke="#cc3377" stroke-width="1" stroke-dasharray="1.2,1.0"/>
<line x1="194.40" y1="161.77" x2="197.40" y2="161.77" stroke="#cc3377" stroke-width="1"/>
<line x1="194.40" y1="163.37" x2="197.40" y2="163.37" stroke="#cc3377" stroke-width="1"/>
<line x1="208.45" y1="172.97" x2="208.45" y2="174.57" stroke="#cc3377" stroke-width="1" stroke-dasharray="1.2,1.0"/>
<line x1="206.95" y1="172.97" x2="209.95" y2="172.97" stroke="#cc3377" stroke-width="1"/>
<line x1="206.95" y1="174.57" x2="209.95" y2="174.57" stroke="#cc3377" stroke-width="1"/>
<line x1="221.00" y1="183.60" x2="221.00" y2="185.60" stroke="#cc3377" stroke-width="1" stroke-dasharray="1.2,1.0"/>
<line x1="219.50" y1="183.60" x2="222.50" y2="183.60" stroke="#cc3377" stroke-width="1"/>
<line x1="219.50" y1="185.60" x2="222.50" y2="185.60" stroke="#cc3377" stroke-width="1"/>
<line x1="233.55" y1="191.00" x2="233.55" y2="194.00" stroke="#cc3377" stroke-width="1" stroke-dasharray="1.2,1.0"/>
<line x1="232.05" y1="191.00" x2="235.05" y2="191.00" stroke="#cc3377" stroke-width="1"/>
<line x1="232.05" y1="194.00" x2="235.05" y2="194.00" stroke="#cc3377" stroke-width="1"/>
<line x1="246.10" y1="192.24" x2="246.10" y2="195.24" stroke="#cc3377" stroke-width="1" stroke-dasharray="1.2,1.0"/>
<line x1="244.60" y1="192.24" x2="247.60" y2="192.24" stroke="#cc3377" stroke-width="1"/>
<line x1="244.60" y1="195.24" x2="247.60" y2="195.24" stroke="#cc3377" stroke-width="1"/>
<line x1="258.65" y1="205.63" x2="258.65" y2="209.63" stroke="#cc3377" stroke-width="1" stroke-dasharray="1.2,1.0"/>
<line x1="257.15" y1="205.63" x2="260.15" y2="205.63" stroke="#cc3377" stroke-width="1"/>
<line x1="257.15" y1="209.63" x2="260.15" y2="209.63" stroke="#cc3377" stroke-width="1"/>
<line x1="271.20" y1="210.67" x2="271.20" y2="216.47" stroke="#cc3377" stroke-width="1" stroke-dasharray="1.2,1.0"/>
<line x1="269.70" y1="210.67" x2="272.70" y2="210.67" stroke="#cc3377" stroke-width="1"/>
<line x1="269.70" y1="216.47" x2="272.70" y2="216.47" stroke="#cc3377" stroke-width="1"/>
<line x1="283.75" y1="217.19" x2="283.75" y2="224.79" stroke="#cc3377" stroke-width="1" stroke-dasharray="1.2,1.0"/>
<line x1="282.25" y1="217.19" x2="285.25" y2="217.19" stroke="#cc3377" stroke-width="1"/>
<line x1="282.25" y1="224.79" x2="285.25" y2="224.79" stroke="#cc3377" stroke-width="1"/>
<line x1="296.30" y1="228.86" x2="296.30" y2="233.86" stroke="#cc3377" stroke-width="1" stroke-dasharray="1.2,1.0"/>
<line x1="294.80" y1="228.86" x2="297.80" y2="228.86" stroke="#cc3377" stroke-width="1"/>
<line x1="294.80" y1="233.86" x2="297.80" y2="233.86" stroke="#cc3377" stroke-width="1"/>
<line x1="308.85" y1="224.91" x2="308.85" y2="233.11" stroke="#cc3377" stroke-width="1" stroke-dasharray="1.2,1.0"/>
<line x1="307.35" y1="224.91" x2="310.35" y2="224.91" stroke="#cc3377" stroke-width="1"/>
<line x1="307.35" y1="233.11" x2="310.35" y2="233.11" stroke="#cc3377" stroke-width="1"/>
<line x1="321.40" y1="241.45" x2="321.40" y2="251.85" stroke="#cc3377" stroke-width="1" stroke-dasharray="1.2,1.0"/>
<line x1="319.90" y1="241.45" x2="322.90" y2="241.45" stroke="#cc3377" stroke-width="1"/>
<line x1="319.90" y1="251.85" x2="322.90" y2="251.85" stroke="#cc3377" stroke-width="1"/>
<line x1="333.95" y1="248.52" x2="333.95" y2="254.52" stroke="#cc3377" stroke-width="1" stroke-dasharray="1.2,1.0"/>
<line x1="332.45" y1="248.52" x2="335.45" y2="248.52" stroke="#cc3377" stroke-width="1"/>
<line x1="332.45" y1="254.52" x2="335.45" y2="254.52" stroke="#cc3377" stroke-width="1"/>
<line x1="346.50" y1="252.40" x2="346.50" y2="260.40" stroke="#cc3377" stroke-width="1" stroke-dasharray="1.2,1.0"/>
<line x1="345.00" y1="252.40" x2="348.00" y2="252.40" stroke="#cc3377" stroke-width="1"/>
<line x1="345.00" y1="260.40" x2="348.00" y2="260.40" stroke="#cc3377" stroke-width="1"/>
<line x1="359.05" y1="250.94" x2="359.05" y2="263.34" stroke="#cc3377" stroke-width="1" stroke-dasharray="1.2,1.0"/>
<line x1="357.55" y1="250.94" x2="360.55" y2="250.94" stroke="#cc3377" stroke-width="1"/>
<line x1="357.55" y1="263.34" x2="360.55" y2="263.34" stroke="#cc3377" stroke-width="1"/>
</g>
<g clip-path="url(#cu)">
<path d="M57.85,160.21 L70.40,129.66 L82.95,118.72 L95.50,112.27 L108.05,109.49 L120.60,108.03 L133.15,111.56 L145.70,118.24 L158.25,124.54 L170.80,134.55 L183.35,147.59 L195.90,157.63 L208.45,166.67 L221.00,177.57 L233.55,187.09 L246.10,195.83 L258.65,207.81 L271.20,212.41 L283.75,220.61 L296.30,231.39 L308.85,240.45 L321.40,249.80 L333.95,242.68 L346.50,256.10 L359.05,270.10" fill="none" stroke="#339933" stroke-width="1.1" stroke-dasharray="3,2"/>
<line x1="57.85" y1="159.91" x2="57.85" y2="160.51" stroke="#339933" stroke-width="1" stroke-dasharray="3,2"/>
<line x1="56.35" y1="159.91" x2="59.35" y2="159.91" stroke="#339933" stroke-width="1"/>
<line x1="56.35" y1="160.51" x2="59.35" y2="160.51" stroke="#339933" stroke-width="1"/>
<line x1="70.40" y1="129.36" x2="70.40" y2="129.96" stroke="#339933" stroke-width="1" stroke-dasharray="3,2"/>
<line x1="68.90" y1="129.36" x2="71.90" y2="129.36" stroke="#339933" stroke-width="1"/>
<line x1="68.90" y1="129.96" x2="71.90" y2="129.96" stroke="#339933" stroke-width="1"/>
<line x1="82.95" y1="118.42" x2="82.95" y2="119.02" stroke="#339933" stroke-width="1" stroke-dasharray="3,2"/>
<line x1="81.45" y1="118.42" x2="84.45" y2="118.42" stroke="#339933" stroke-width="1"/>
<line x1="81.45" y1="119.02" x2="84.45" y2="119.02" stroke="#339933" stroke-width="1"/>
<line x1="95.50" y1="111.97" x2="95.50" y2="112.57" stroke="#339933" stroke-width="1" stroke-dasharray="3,2"/>
<line x1="94.00" y1="111.97" x2="97.00" y2="111.97" stroke="#339933" stroke-width="1"/>
<line x1="94.00" y1="112.57" x2="97.00" y2="112.57" stroke="#339933" stroke-width="1"/>
<line x1="108.05" y1="109.19" x2="108.05" y2="109.79" stroke="#339933" stroke-width="1" stroke-dasharray="3,2"/>
<line x1="106.55" y1="109.19" x2="109.55" y2="109.19" stroke="#339933" stroke-width="1"/>
<line x1="106.55" y1="109.79" x2="109.55" y2="109.79" stroke="#339933" stroke-width="1"/>
<line x1="120.60" y1="107.73" x2="120.60" y2="108.33" stroke="#339933" stroke-width="1" stroke-dasharray="3,2"/>
<line x1="119.10" y1="107.73" x2="122.10" y2="107.73" stroke="#339933" stroke-width="1"/>
<line x1="119.10" y1="108.33" x2="122.10" y2="108.33" stroke="#339933" stroke-width="1"/>
<line x1="133.15" y1="111.26" x2="133.15" y2="111.86" stroke="#339933" stroke-width="1" stroke-dasharray="3,2"/>
<line x1="131.65" y1="111.26" x2="134.65" y2="111.26" stroke="#339933" stroke-width="1"/>
<line x1="131.65" y1="111.86" x2="134.65" y2="111.86" stroke="#339933" stroke-width="1"/>
<line x1="145.70" y1="117.94" x2="145.70" y2="118.54" stroke="#339933" stroke-width="1" stroke-dasharray="3,2"/>
<line x1="144.20" y1="117.94" x2="147.20" y2="117.94" stroke="#339933" stroke-width="1"/>
<line x1="144.20" y1="118.54" x2="147.20" y2="118.54" stroke="#339933" stroke-width="1"/>
<line x1="158.25" y1="124.24" x2="158.25" y2="124.84" stroke="#339933" stroke-width="1" stroke-dasharray="3,2"/>
<line x1="156.75" y1="124.24" x2="159.75" y2="124.24" stroke="#339933" stroke-width="1"/>
<line x1="156.75" y1="124.84" x2="159.75" y2="124.84" stroke="#339933" stroke-width="1"/>
<line x1="170.80" y1="134.25" x2="170.80" y2="134.85" stroke="#339933" stroke-width="1" stroke-dasharray="3,2"/>
<line x1="169.30" y1="134.25" x2="172.30" y2="134.25" stroke="#339933" stroke-width="1"/>
<line x1="169.30" y1="134.85" x2="172.30" y2="134.85" stroke="#339933" stroke-width="1"/>
<line x1="183.35" y1="146.99" x2="183.35" y2="148.19" stroke="#339933" stroke-width="1" stroke-dasharray="3,2"/>
<line x1="181.85" y1="146.99" x2="184.85" y2="146.99" stroke="#339933" stroke-width="1"/>
<line x1="181.85" y1="148.19" x2="184.85" y2="148.19" stroke="#339933" stroke-width="1"/>
<line x1="195.90" y1="156.83" x2="195.90" y2="158.43" stroke="#339933" stroke-width="1" stroke-dasharray="3,2"/>
<line x1="194.40" y1="156.83" x2="197.40" y2="156.83" stroke="#339933" stroke-width="1"/>
<line x1="194.40" y1="158.43" x2="197.40" y2="158.43" stroke="#339933" stroke-width="1"/>
<line x1="208.45" y1="165.87" x2="208.45" y2="167.47" stroke="#339933" stroke-width="1" stroke-dasharray="3,2"/>
<line x1="206.95" y1="165.87" x2="209.95" y2="165.87" stroke="#339933" stroke-width="1"/>
<line x1="206.95" y1="167.47" x2="209.95" y2="167.47" stroke="#339933" stroke-width="1"/>
<line x1="221.00" y1="176.57" x2="221.00" y2="178.57" stroke="#339933" stroke-width="1" stroke-dasharray="3,2"/>
<line x1="219.50" y1="176.57" x2="222.50" y2="176.57" stroke="#339933" stroke-width="1"/>
<line x1="219.50" y1="178.57" x2="222.50" y2="178.57" stroke="#339933" stroke-width="1"/>
<line x1="233.55" y1="185.49" x2="233.55" y2="188.69" stroke="#339933" stroke-width="1" stroke-dasharray="3,2"/>
<line x1="232.05" y1="185.49" x2="235.05" y2="185.49" stroke="#339933" stroke-width="1"/>
<line x1="232.05" y1="188.69" x2="235.05" y2="188.69" stroke="#339933" stroke-width="1"/>
<line x1="246.10" y1="194.33" x2="246.10" y2="197.33" stroke="#339933" stroke-width="1" stroke-dasharray="3,2"/>
<line x1="244.60" y1="194.33" x2="247.60" y2="194.33" stroke="#339933" stroke-width="1"/>
<line x1="244.60" y1="197.33" x2="247.60" y2="197.33" stroke="#339933" stroke-width="1"/>
<line x1="258.65" y1="205.81" x2="258.65" y2="209.81" stroke="#339933" stroke-width="1" stroke-dasharray="3,2"/>
<line x1="257.15" y1="205.81" x2="260.15" y2="205.81" stroke="#339933" stroke-width="1"/>
<line x1="257.15" y1="209.81" x2="260.15" y2="209.81" stroke="#339933" stroke-width="1"/>
<line x1="271.20" y1="209.91" x2="271.20" y2="214.91" stroke="#339933" stroke-width="1" stroke-dasharray="3,2"/>
<line x1="269.70" y1="209.91" x2="272.70" y2="209.91" stroke="#339933" stroke-width="1"/>
<line x1="269.70" y1="214.91" x2="272.70" y2="214.91" stroke="#339933" stroke-width="1"/>
<line x1="283.75" y1="217.71" x2="283.75" y2="223.51" stroke="#339933" stroke-width="1" stroke-dasharray="3,2"/>
<line x1="282.25" y1="217.71" x2="285.25" y2="217.71" stroke="#339933" stroke-width="1"/>
<line x1="282.25" y1="223.51" x2="285.25" y2="223.51" stroke="#339933" stroke-width="1"/>
<line x1="296.30" y1="228.89" x2="296.30" y2="233.89" stroke="#339933" stroke-width="1" stroke-dasharray="3,2"/>
<line x1="294.80" y1="228.89" x2="297.80" y2="228.89" stroke="#339933" stroke-width="1"/>
<line x1="294.80" y1="233.89" x2="297.80" y2="233.89" stroke="#339933" stroke-width="1"/>
<line x1="308.85" y1="237.45" x2="308.85" y2="243.45" stroke="#339933" stroke-width="1" stroke-dasharray="3,2"/>
<line x1="307.35" y1="237.45" x2="310.35" y2="237.45" stroke="#339933" stroke-width="1"/>
<line x1="307.35" y1="243.45" x2="310.35" y2="243.45" stroke="#339933" stroke-width="1"/>
<line x1="321.40" y1="246.30" x2="321.40" y2="253.30" stroke="#339933" stroke-width="1" stroke-dasharray="3,2"/>
<line x1="319.90" y1="246.30" x2="322.90" y2="246.30" stroke="#339933" stroke-width="1"/>
<line x1="319.90" y1="253.30" x2="322.90" y2="253.30" stroke="#339933" stroke-width="1"/>
<line x1="333.95" y1="237.93" x2="333.95" y2="247.43" stroke="#339933" stroke-width="1" stroke-dasharray="3,2"/>
<line x1="332.45" y1="237.93" x2="335.45" y2="237.93" stroke="#339933" stroke-width="1"/>
<line x1="332.45" y1="247.43" x2="335.45" y2="247.43" stroke="#339933" stroke-width="1"/>
<line x1="346.50" y1="252.10" x2="346.50" y2="260.10" stroke="#339933" stroke-width="1" stroke-dasharray="3,2"/>
<line x1="345.00" y1="252.10" x2="348.00" y2="252.10" stroke="#339933" stroke-width="1"/>
<line x1="345.00" y1="260.10" x2="348.00" y2="260.10" stroke="#339933" stroke-width="1"/>
<line x1="359.05" y1="265.60" x2="359.05" y2="274.60" stroke="#339933" stroke-width="1" stroke-dasharray="3,2"/>
<line x1="357.55" y1="265.60" x2="360.55" y2="265.60" stroke="#339933" stroke-width="1"/>
<line x1="357.55" y1="274.60" x2="360.55" y2="274.60" stroke="#339933" stroke-width="1"/>
</g>
<g clip-path="url(#cu)">
<path d="M57.85,159.40 L70.40,126.69 L82.95,115.41 L95.50,109.77 L108.05,106.43 L120.60,107.78 L133.15,113.18 L145.70,119.49 L158.25,128.72 L170.80,141.20 L183.35,155.22 L195.90,165.60 L208.45,177.83 L221.00,187.13 L233.55,193.31 L246.10,204.33 L258.65,208.91 L271.20,224.10 L283.75,232.80 L296.30,232.92 L308.85,240.32 L321.40,259.60 L333.95,267.80 L346.50,272.60 L359.05,267.80" fill="none" stroke="#0000ff" stroke-width="1.5"/>
<line x1="57.85" y1="159.10" x2="57.85" y2="159.70" stroke="#0000ff" stroke-width="1"/>
<line x1="56.35" y1="159.10" x2="59.35" y2="159.10" stroke="#0000ff" stroke-width="1"/>
<line x1="56.35" y1="159.70" x2="59.35" y2="159.70" stroke="#0000ff" stroke-width="1"/>
<line x1="70.40" y1="126.39" x2="70.40" y2="126.99" stroke="#0000ff" stroke-width="1"/>
<line x1="68.90" y1="126.39" x2="71.90" y2="126.39" stroke="#0000ff" stroke-width="1"/>
<line x1="68.90" y1="126.99" x2="71.90" y2="126.99" stroke="#0000ff" stroke-width="1"/>
<line x1="82.95" y1="115.11" x2="82.95" y2="115.71" stroke="#0000ff" stroke-width="1"/>
<line x1="81.45" y1="115.11" x2="84.45" y2="115.11" stroke="#0000ff" stroke-width="1"/>
<line x1="81.45" y1="115.71" x2="84.45" y2="115.71" stroke="#0000ff" stroke-width="1"/>
<line x1="95.50" y1="109.47" x2="95.50" y2="110.07" stroke="#0000ff" stroke-width="1"/>
<line x1="94.00" y1="109.47" x2="97.00" y2="109.47" stroke="#0000ff" stroke-width="1"/>
<line x1="94.00" y1="110.07" x2="97.00" y2="110.07" stroke="#0000ff" stroke-width="1"/>
<line x1="108.05" y1="106.13" x2="108.05" y2="106.73" stroke="#0000ff" stroke-width="1"/>
<line x1="106.55" y1="106.13" x2="109.55" y2="106.13" stroke="#0000ff" stroke-width="1"/>
<line x1="106.55" y1="106.73" x2="109.55" y2="106.73" stroke="#0000ff" stroke-width="1"/>
<line x1="120.60" y1="107.48" x2="120.60" y2="108.08" stroke="#0000ff" stroke-width="1"/>
<line x1="119.10" y1="107.48" x2="122.10" y2="107.48" stroke="#0000ff" stroke-width="1"/>
<line x1="119.10" y1="108.08" x2="122.10" y2="108.08" stroke="#0000ff" stroke-width="1"/>
<line x1="133.15" y1="112.88" x2="133.15" y2="113.48" stroke="#0000ff" stroke-width="1"/>
<line x1="131.65" y1="112.88" x2="134.65" y2="112.88" stroke="#0000ff" stroke-width="1"/>
<line x1="131.65" y1="113.48" x2="134.65" y2="113.48" stroke="#0000ff" stroke-width="1"/>
<line x1="145.70" y1="119.19" x2="145.70" y2="119.79" stroke="#0000ff" stroke-width="1"/>
<line x1="144.20" y1="119.19" x2="147.20" y2="119.19" stroke="#0000ff" stroke-width="1"/>
<line x1="144.20" y1="119.79" x2="147.20" y2="119.79" stroke="#0000ff" stroke-width="1"/>
<line x1="158.25" y1="128.42" x2="158.25" y2="129.02" stroke="#0000ff" stroke-width="1"/>
<line x1="156.75" y1="128.42" x2="159.75" y2="128.42" stroke="#0000ff" stroke-width="1"/>
<line x1="156.75" y1="129.02" x2="159.75" y2="129.02" stroke="#0000ff" stroke-width="1"/>
<line x1="170.80" y1="140.90" x2="170.80" y2="141.50" stroke="#0000ff" stroke-width="1"/>
<line x1="169.30" y1="140.90" x2="172.30" y2="140.90" stroke="#0000ff" stroke-width="1"/>
<line x1="169.30" y1="141.50" x2="172.30" y2="141.50" stroke="#0000ff" stroke-width="1"/>
<line x1="183.35" y1="153.97" x2="183.35" y2="156.47" stroke="#0000ff" stroke-width="1"/>
<line x1="181.85" y1="153.97" x2="184.85" y2="153.97" stroke="#0000ff" stroke-width="1"/>
<line x1="181.85" y1="156.47" x2="184.85" y2="156.47" stroke="#0000ff" stroke-width="1"/>
<line x1="195.90" y1="164.10" x2="195.90" y2="167.10" stroke="#0000ff" stroke-width="1"/>
<line x1="194.40" y1="164.10" x2="197.40" y2="164.10" stroke="#0000ff" stroke-width="1"/>
<line x1="194.40" y1="167.10" x2="197.40" y2="167.10" stroke="#0000ff" stroke-width="1"/>
<line x1="208.45" y1="176.23" x2="208.45" y2="179.43" stroke="#0000ff" stroke-width="1"/>
<line x1="206.95" y1="176.23" x2="209.95" y2="176.23" stroke="#0000ff" stroke-width="1"/>
<line x1="206.95" y1="179.43" x2="209.95" y2="179.43" stroke="#0000ff" stroke-width="1"/>
<line x1="221.00" y1="184.93" x2="221.00" y2="189.33" stroke="#0000ff" stroke-width="1"/>
<line x1="219.50" y1="184.93" x2="222.50" y2="184.93" stroke="#0000ff" stroke-width="1"/>
<line x1="219.50" y1="189.33" x2="222.50" y2="189.33" stroke="#0000ff" stroke-width="1"/>
<line x1="233.55" y1="190.41" x2="233.55" y2="197.31" stroke="#0000ff" stroke-width="1"/>
<line x1="232.05" y1="190.41" x2="235.05" y2="190.41" stroke="#0000ff" stroke-width="1"/>
<line x1="232.05" y1="197.31" x2="235.05" y2="197.31" stroke="#0000ff" stroke-width="1"/>
<line x1="246.10" y1="201.03" x2="246.10" y2="207.73" stroke="#0000ff" stroke-width="1"/>
<line x1="244.60" y1="201.03" x2="247.60" y2="201.03" stroke="#0000ff" stroke-width="1"/>
<line x1="244.60" y1="207.73" x2="247.60" y2="207.73" stroke="#0000ff" stroke-width="1"/>
<line x1="258.65" y1="205.31" x2="258.65" y2="212.61" stroke="#0000ff" stroke-width="1"/>
<line x1="257.15" y1="205.31" x2="260.15" y2="205.31" stroke="#0000ff" stroke-width="1"/>
<line x1="257.15" y1="212.61" x2="260.15" y2="212.61" stroke="#0000ff" stroke-width="1"/>
<line x1="271.20" y1="218.80" x2="271.20" y2="229.30" stroke="#0000ff" stroke-width="1"/>
<line x1="269.70" y1="218.80" x2="272.70" y2="218.80" stroke="#0000ff" stroke-width="1"/>
<line x1="269.70" y1="229.30" x2="272.70" y2="229.30" stroke="#0000ff" stroke-width="1"/>
<line x1="283.75" y1="227.10" x2="283.75" y2="237.80" stroke="#0000ff" stroke-width="1"/>
<line x1="282.25" y1="227.10" x2="285.25" y2="227.10" stroke="#0000ff" stroke-width="1"/>
<line x1="282.25" y1="237.80" x2="285.25" y2="237.80" stroke="#0000ff" stroke-width="1"/>
<line x1="296.30" y1="226.92" x2="296.30" y2="239.92" stroke="#0000ff" stroke-width="1"/>
<line x1="294.80" y1="226.92" x2="297.80" y2="226.92" stroke="#0000ff" stroke-width="1"/>
<line x1="294.80" y1="239.92" x2="297.80" y2="239.92" stroke="#0000ff" stroke-width="1"/>
<line x1="308.85" y1="234.12" x2="308.85" y2="247.82" stroke="#0000ff" stroke-width="1"/>
<line x1="307.35" y1="234.12" x2="310.35" y2="234.12" stroke="#0000ff" stroke-width="1"/>
<line x1="307.35" y1="247.82" x2="310.35" y2="247.82" stroke="#0000ff" stroke-width="1"/>
<line x1="321.40" y1="249.80" x2="321.40" y2="270.90" stroke="#0000ff" stroke-width="1"/>
<line x1="319.90" y1="249.80" x2="322.90" y2="249.80" stroke="#0000ff" stroke-width="1"/>
<line x1="319.90" y1="270.90" x2="322.90" y2="270.90" stroke="#0000ff" stroke-width="1"/>
<line x1="333.95" y1="257.90" x2="333.95" y2="281.60" stroke="#0000ff" stroke-width="1"/>
<line x1="332.45" y1="257.90" x2="335.45" y2="257.90" stroke="#0000ff" stroke-width="1"/>
<line x1="332.45" y1="281.60" x2="335.45" y2="281.60" stroke="#0000ff" stroke-width="1"/>
<line x1="346.50" y1="262.70" x2="346.50" y2="288.20" stroke="#0000ff" stroke-width="1"/>
<line x1="345.00" y1="262.70" x2="348.00" y2="262.70" stroke="#0000ff" stroke-width="1"/>
<line x1="345.00" y1="288.20" x2="348.00" y2="288.20" stroke="#0000ff" stroke-width="1"/>
<line x1="359.05" y1="257.90" x2="359.05" y2="281.60" stroke="#0000ff" stroke-width="1"/>
<line x1="357.55" y1="257.90" x2="360.55" y2="257.90" stroke="#0000ff" stroke-width="1"/>
<line x1="357.55" y1="281.60" x2="360.55" y2="281.60" stroke="#0000ff" stroke-width="1"/>
</g>
<g clip-path="url(#cu)">
<path d="M57.85,131.40 L70.40,106.00 L82.95,108.35 L95.50,110.96 L108.05,121.86 L120.60,117.15 L133.15,110.46 L145.70,137.01 L158.25,151.21 L170.80,133.77 L183.35,170.27 L195.90,156.69 L221.00,153.86 L258.65,184.45 L296.30,184.60" fill="none" stroke="#ff0000" stroke-width="1.0" stroke-dasharray="1.1,0.9"/>
<line x1="57.85" y1="119.70" x2="57.85" y2="152.20" stroke="#ff0000" stroke-width="1" stroke-dasharray="1.1,0.9"/>
<line x1="56.35" y1="119.70" x2="59.35" y2="119.70" stroke="#ff0000" stroke-width="1"/>
<line x1="56.35" y1="152.20" x2="59.35" y2="152.20" stroke="#ff0000" stroke-width="1"/>
<line x1="70.40" y1="98.90" x2="70.40" y2="115.60" stroke="#ff0000" stroke-width="1" stroke-dasharray="1.1,0.9"/>
<line x1="68.90" y1="98.90" x2="71.90" y2="98.90" stroke="#ff0000" stroke-width="1"/>
<line x1="68.90" y1="115.60" x2="71.90" y2="115.60" stroke="#ff0000" stroke-width="1"/>
<line x1="82.95" y1="100.75" x2="82.95" y2="116.35" stroke="#ff0000" stroke-width="1" stroke-dasharray="1.1,0.9"/>
<line x1="81.45" y1="100.75" x2="84.45" y2="100.75" stroke="#ff0000" stroke-width="1"/>
<line x1="81.45" y1="116.35" x2="84.45" y2="116.35" stroke="#ff0000" stroke-width="1"/>
<line x1="95.50" y1="103.36" x2="95.50" y2="121.76" stroke="#ff0000" stroke-width="1" stroke-dasharray="1.1,0.9"/>
<line x1="94.00" y1="103.36" x2="97.00" y2="103.36" stroke="#ff0000" stroke-width="1"/>
<line x1="94.00" y1="121.76" x2="97.00" y2="121.76" stroke="#ff0000" stroke-width="1"/>
<line x1="108.05" y1="112.96" x2="108.05" y2="135.86" stroke="#ff0000" stroke-width="1" stroke-dasharray="1.1,0.9"/>
<line x1="106.55" y1="112.96" x2="109.55" y2="112.96" stroke="#ff0000" stroke-width="1"/>
<line x1="106.55" y1="135.86" x2="109.55" y2="135.86" stroke="#ff0000" stroke-width="1"/>
<line x1="120.60" y1="109.15" x2="120.60" y2="130.65" stroke="#ff0000" stroke-width="1" stroke-dasharray="1.1,0.9"/>
<line x1="119.10" y1="109.15" x2="122.10" y2="109.15" stroke="#ff0000" stroke-width="1"/>
<line x1="119.10" y1="130.65" x2="122.10" y2="130.65" stroke="#ff0000" stroke-width="1"/>
<line x1="133.15" y1="102.06" x2="133.15" y2="122.86" stroke="#ff0000" stroke-width="1" stroke-dasharray="1.1,0.9"/>
<line x1="131.65" y1="102.06" x2="134.65" y2="102.06" stroke="#ff0000" stroke-width="1"/>
<line x1="131.65" y1="122.86" x2="134.65" y2="122.86" stroke="#ff0000" stroke-width="1"/>
<line x1="145.70" y1="124.01" x2="145.70" y2="153.61" stroke="#ff0000" stroke-width="1" stroke-dasharray="1.1,0.9"/>
<line x1="144.20" y1="124.01" x2="147.20" y2="124.01" stroke="#ff0000" stroke-width="1"/>
<line x1="144.20" y1="153.61" x2="147.20" y2="153.61" stroke="#ff0000" stroke-width="1"/>
<line x1="158.25" y1="142.21" x2="158.25" y2="189.51" stroke="#ff0000" stroke-width="1" stroke-dasharray="1.1,0.9"/>
<line x1="156.75" y1="142.21" x2="159.75" y2="142.21" stroke="#ff0000" stroke-width="1"/>
<line x1="156.75" y1="189.51" x2="159.75" y2="189.51" stroke="#ff0000" stroke-width="1"/>
<line x1="170.80" y1="123.57" x2="170.80" y2="147.17" stroke="#ff0000" stroke-width="1" stroke-dasharray="1.1,0.9"/>
<line x1="169.30" y1="123.57" x2="172.30" y2="123.57" stroke="#ff0000" stroke-width="1"/>
<line x1="169.30" y1="147.17" x2="172.30" y2="147.17" stroke="#ff0000" stroke-width="1"/>
<line x1="183.35" y1="153.07" x2="183.35" y2="1169.27" stroke="#ff0000" stroke-width="1" stroke-dasharray="1.1,0.9"/>
<line x1="181.85" y1="153.07" x2="184.85" y2="153.07" stroke="#ff0000" stroke-width="1"/>
<line x1="181.85" y1="1169.27" x2="184.85" y2="1169.27" stroke="#ff0000" stroke-width="1"/>
<line x1="195.90" y1="141.39" x2="195.90" y2="190.99" stroke="#ff0000" stroke-width="1" stroke-dasharray="1.1,0.9"/>
<line x1="194.40" y1="141.39" x2="197.40" y2="141.39" stroke="#ff0000" stroke-width="1"/>
<line x1="194.40" y1="190.99" x2="197.40" y2="190.99" stroke="#ff0000" stroke-width="1"/>
<line x1="221.00" y1="139.56" x2="221.00" y2="184.86" stroke="#ff0000" stroke-width="1" stroke-dasharray="1.1,0.9"/>
<line x1="219.50" y1="139.56" x2="222.50" y2="139.56" stroke="#ff0000" stroke-width="1"/>
<line x1="219.50" y1="184.86" x2="222.50" y2="184.86" stroke="#ff0000" stroke-width="1"/>
<line x1="258.65" y1="165.15" x2="258.65" y2="1183.45" stroke="#ff0000" stroke-width="1" stroke-dasharray="1.1,0.9"/>
<line x1="257.15" y1="165.15" x2="260.15" y2="165.15" stroke="#ff0000" stroke-width="1"/>
<line x1="257.15" y1="1183.45" x2="260.15" y2="1183.45" stroke="#ff0000" stroke-width="1"/>
<line x1="296.30" y1="165.30" x2="296.30" y2="1183.60" stroke="#ff0000" stroke-width="1" stroke-dasharray="1.1,0.9"/>
<line x1="294.80" y1="165.30" x2="297.80" y2="165.30" stroke="#ff0000" stroke-width="1"/>
<line x1="294.80" y1="1183.60" x2="297.80" y2="1183.60" stroke="#ff0000" stroke-width="1"/>
</g>
<path d="M57.85,156.50 L60.55,161.40 L55.15,161.40 Z" fill="none" stroke="#cc3377" stroke-width="0.95" stroke-linejoin="miter"/>
<path d="M70.40,118.55 L73.10,123.45 L67.70,123.45 Z" fill="none" stroke="#cc3377" stroke-width="0.95" stroke-linejoin="miter"/>
<path d="M82.95,105.99 L85.65,110.89 L80.25,110.89 Z" fill="none" stroke="#cc3377" stroke-width="0.95" stroke-linejoin="miter"/>
<path d="M95.50,104.32 L98.20,109.22 L92.80,109.22 Z" fill="none" stroke="#cc3377" stroke-width="0.95" stroke-linejoin="miter"/>
<path d="M108.05,104.14 L110.75,109.04 L105.35,109.04 Z" fill="none" stroke="#cc3377" stroke-width="0.95" stroke-linejoin="miter"/>
<path d="M120.60,108.67 L123.30,113.57 L117.90,113.57 Z" fill="none" stroke="#cc3377" stroke-width="0.95" stroke-linejoin="miter"/>
<path d="M133.15,115.13 L135.85,120.03 L130.45,120.03 Z" fill="none" stroke="#cc3377" stroke-width="0.95" stroke-linejoin="miter"/>
<path d="M145.70,124.13 L148.40,129.03 L143.00,129.03 Z" fill="none" stroke="#cc3377" stroke-width="0.95" stroke-linejoin="miter"/>
<path d="M158.25,130.27 L160.95,135.17 L155.55,135.17 Z" fill="none" stroke="#cc3377" stroke-width="0.95" stroke-linejoin="miter"/>
<path d="M170.80,138.54 L173.50,143.44 L168.10,143.44 Z" fill="none" stroke="#cc3377" stroke-width="0.95" stroke-linejoin="miter"/>
<path d="M183.35,150.48 L186.05,155.38 L180.65,155.38 Z" fill="none" stroke="#cc3377" stroke-width="0.95" stroke-linejoin="miter"/>
<path d="M195.90,159.87 L198.60,164.77 L193.20,164.77 Z" fill="none" stroke="#cc3377" stroke-width="0.95" stroke-linejoin="miter"/>
<path d="M208.45,171.07 L211.15,175.97 L205.75,175.97 Z" fill="none" stroke="#cc3377" stroke-width="0.95" stroke-linejoin="miter"/>
<path d="M221.00,181.90 L223.70,186.80 L218.30,186.80 Z" fill="none" stroke="#cc3377" stroke-width="0.95" stroke-linejoin="miter"/>
<path d="M233.55,189.80 L236.25,194.70 L230.85,194.70 Z" fill="none" stroke="#cc3377" stroke-width="0.95" stroke-linejoin="miter"/>
<path d="M246.10,191.04 L248.80,195.94 L243.40,195.94 Z" fill="none" stroke="#cc3377" stroke-width="0.95" stroke-linejoin="miter"/>
<path d="M258.65,204.93 L261.35,209.83 L255.95,209.83 Z" fill="none" stroke="#cc3377" stroke-width="0.95" stroke-linejoin="miter"/>
<path d="M271.20,210.87 L273.90,215.77 L268.50,215.77 Z" fill="none" stroke="#cc3377" stroke-width="0.95" stroke-linejoin="miter"/>
<path d="M283.75,218.29 L286.45,223.19 L281.05,223.19 Z" fill="none" stroke="#cc3377" stroke-width="0.95" stroke-linejoin="miter"/>
<path d="M296.30,228.66 L299.00,233.56 L293.60,233.56 Z" fill="none" stroke="#cc3377" stroke-width="0.95" stroke-linejoin="miter"/>
<path d="M308.85,226.31 L311.55,231.21 L306.15,231.21 Z" fill="none" stroke="#cc3377" stroke-width="0.95" stroke-linejoin="miter"/>
<path d="M321.40,243.95 L324.10,248.85 L318.70,248.85 Z" fill="none" stroke="#cc3377" stroke-width="0.95" stroke-linejoin="miter"/>
<path d="M333.95,248.82 L336.65,253.72 L331.25,253.72 Z" fill="none" stroke="#cc3377" stroke-width="0.95" stroke-linejoin="miter"/>
<path d="M346.50,253.70 L349.20,258.60 L343.80,258.60 Z" fill="none" stroke="#cc3377" stroke-width="0.95" stroke-linejoin="miter"/>
<path d="M359.05,254.44 L361.75,259.34 L356.35,259.34 Z" fill="none" stroke="#cc3377" stroke-width="0.95" stroke-linejoin="miter"/>
<rect x="55.05" y="157.41" width="5.6" height="5.6" fill="none" stroke="#339933" stroke-width="1.1"/>
<rect x="67.60" y="126.86" width="5.6" height="5.6" fill="none" stroke="#339933" stroke-width="1.1"/>
<rect x="80.15" y="115.92" width="5.6" height="5.6" fill="none" stroke="#339933" stroke-width="1.1"/>
<rect x="92.70" y="109.47" width="5.6" height="5.6" fill="none" stroke="#339933" stroke-width="1.1"/>
<rect x="105.25" y="106.69" width="5.6" height="5.6" fill="none" stroke="#339933" stroke-width="1.1"/>
<rect x="117.80" y="105.23" width="5.6" height="5.6" fill="none" stroke="#339933" stroke-width="1.1"/>
<rect x="130.35" y="108.76" width="5.6" height="5.6" fill="none" stroke="#339933" stroke-width="1.1"/>
<rect x="142.90" y="115.44" width="5.6" height="5.6" fill="none" stroke="#339933" stroke-width="1.1"/>
<rect x="155.45" y="121.74" width="5.6" height="5.6" fill="none" stroke="#339933" stroke-width="1.1"/>
<rect x="168.00" y="131.75" width="5.6" height="5.6" fill="none" stroke="#339933" stroke-width="1.1"/>
<rect x="180.55" y="144.79" width="5.6" height="5.6" fill="none" stroke="#339933" stroke-width="1.1"/>
<rect x="193.10" y="154.83" width="5.6" height="5.6" fill="none" stroke="#339933" stroke-width="1.1"/>
<rect x="205.65" y="163.87" width="5.6" height="5.6" fill="none" stroke="#339933" stroke-width="1.1"/>
<rect x="218.20" y="174.77" width="5.6" height="5.6" fill="none" stroke="#339933" stroke-width="1.1"/>
<rect x="230.75" y="184.29" width="5.6" height="5.6" fill="none" stroke="#339933" stroke-width="1.1"/>
<rect x="243.30" y="193.03" width="5.6" height="5.6" fill="none" stroke="#339933" stroke-width="1.1"/>
<rect x="255.85" y="205.01" width="5.6" height="5.6" fill="none" stroke="#339933" stroke-width="1.1"/>
<rect x="268.40" y="209.61" width="5.6" height="5.6" fill="none" stroke="#339933" stroke-width="1.1"/>
<rect x="280.95" y="217.81" width="5.6" height="5.6" fill="none" stroke="#339933" stroke-width="1.1"/>
<rect x="293.50" y="228.59" width="5.6" height="5.6" fill="none" stroke="#339933" stroke-width="1.1"/>
<rect x="306.05" y="237.65" width="5.6" height="5.6" fill="none" stroke="#339933" stroke-width="1.1"/>
<rect x="318.60" y="247.00" width="5.6" height="5.6" fill="none" stroke="#339933" stroke-width="1.1"/>
<rect x="331.15" y="239.88" width="5.6" height="5.6" fill="none" stroke="#339933" stroke-width="1.1"/>
<rect x="343.70" y="253.30" width="5.6" height="5.6" fill="none" stroke="#339933" stroke-width="1.1"/>
<rect x="356.25" y="267.30" width="5.6" height="5.6" fill="none" stroke="#339933" stroke-width="1.1"/>
<path d="M57.85,156.30 L60.55,161.80 L55.15,161.80 Z" fill="#0000ff"/>
<path d="M70.40,123.59 L73.10,129.09 L67.70,129.09 Z" fill="#0000ff"/>
<path d="M82.95,112.31 L85.65,117.81 L80.25,117.81 Z" fill="#0000ff"/>
<path d="M95.50,106.67 L98.20,112.17 L92.80,112.17 Z" fill="#0000ff"/>
<path d="M108.05,103.33 L110.75,108.83 L105.35,108.83 Z" fill="#0000ff"/>
<path d="M120.60,104.68 L123.30,110.18 L117.90,110.18 Z" fill="#0000ff"/>
<path d="M133.15,110.08 L135.85,115.58 L130.45,115.58 Z" fill="#0000ff"/>
<path d="M145.70,116.39 L148.40,121.89 L143.00,121.89 Z" fill="#0000ff"/>
<path d="M158.25,125.62 L160.95,131.12 L155.55,131.12 Z" fill="#0000ff"/>
<path d="M170.80,138.10 L173.50,143.60 L168.10,143.60 Z" fill="#0000ff"/>
<path d="M183.35,152.12 L186.05,157.62 L180.65,157.62 Z" fill="#0000ff"/>
<path d="M195.90,162.50 L198.60,168.00 L193.20,168.00 Z" fill="#0000ff"/>
<path d="M208.45,174.73 L211.15,180.23 L205.75,180.23 Z" fill="#0000ff"/>
<path d="M221.00,184.03 L223.70,189.53 L218.30,189.53 Z" fill="#0000ff"/>
<path d="M233.55,190.21 L236.25,195.71 L230.85,195.71 Z" fill="#0000ff"/>
<path d="M246.10,201.23 L248.80,206.73 L243.40,206.73 Z" fill="#0000ff"/>
<path d="M258.65,205.81 L261.35,211.31 L255.95,211.31 Z" fill="#0000ff"/>
<path d="M271.20,221.00 L273.90,226.50 L268.50,226.50 Z" fill="#0000ff"/>
<path d="M283.75,229.70 L286.45,235.20 L281.05,235.20 Z" fill="#0000ff"/>
<path d="M296.30,229.82 L299.00,235.32 L293.60,235.32 Z" fill="#0000ff"/>
<path d="M308.85,237.22 L311.55,242.72 L306.15,242.72 Z" fill="#0000ff"/>
<path d="M321.40,256.50 L324.10,262.00 L318.70,262.00 Z" fill="#0000ff"/>
<path d="M333.95,264.70 L336.65,270.20 L331.25,270.20 Z" fill="#0000ff"/>
<path d="M346.50,269.50 L349.20,275.00 L343.80,275.00 Z" fill="#0000ff"/>
<path d="M359.05,264.70 L361.75,270.20 L356.35,270.20 Z" fill="#0000ff"/>
<path d="M57.85,128.10 L60.05,131.40 L57.85,134.70 L55.65,131.40 Z" fill="#ff0000"/>
<path d="M70.40,102.70 L72.60,106.00 L70.40,109.30 L68.20,106.00 Z" fill="#ff0000"/>
<path d="M82.95,105.05 L85.15,108.35 L82.95,111.65 L80.75,108.35 Z" fill="#ff0000"/>
<path d="M95.50,107.66 L97.70,110.96 L95.50,114.26 L93.30,110.96 Z" fill="#ff0000"/>
<path d="M108.05,118.56 L110.25,121.86 L108.05,125.16 L105.85,121.86 Z" fill="#ff0000"/>
<path d="M120.60,113.85 L122.80,117.15 L120.60,120.45 L118.40,117.15 Z" fill="#ff0000"/>
<path d="M133.15,107.16 L135.35,110.46 L133.15,113.76 L130.95,110.46 Z" fill="#ff0000"/>
<path d="M145.70,133.71 L147.90,137.01 L145.70,140.31 L143.50,137.01 Z" fill="#ff0000"/>
<path d="M158.25,147.91 L160.45,151.21 L158.25,154.51 L156.05,151.21 Z" fill="#ff0000"/>
<path d="M170.80,130.47 L173.00,133.77 L170.80,137.07 L168.60,133.77 Z" fill="#ff0000"/>
<path d="M183.35,166.97 L185.55,170.27 L183.35,173.57 L181.15,170.27 Z" fill="#ff0000"/>
<path d="M195.90,153.39 L198.10,156.69 L195.90,159.99 L193.70,156.69 Z" fill="#ff0000"/>
<path d="M221.00,150.56 L223.20,153.86 L221.00,157.16 L218.80,153.86 Z" fill="#ff0000"/>
<path d="M258.65,181.15 L260.85,184.45 L258.65,187.75 L256.45,184.45 Z" fill="#ff0000"/>
<path d="M296.30,181.30 L298.50,184.60 L296.30,187.90 L294.10,184.60 Z" fill="#ff0000"/>
<path d="M45.3,17.3 H371.3 V477.8 H45.3 Z M45.3,317.3 H371.3" fill="none" stroke="#000" stroke-width="1.25"/>
<line x1="44.699999999999996" y1="478.1" x2="371.90000000000003" y2="478.1" stroke="#000" stroke-width="1.5"/>
<path d="M45.30,17.3 v3 M45.30,317.3 v-3 M45.30,317.3 v2.5 M45.30,477.8 v-2.5 M57.85,17.3 v3 M57.85,317.3 v-3 M57.85,317.3 v2.5 M57.85,477.8 v-2.5 M70.40,17.3 v3 M70.40,317.3 v-3 M70.40,317.3 v2.5 M70.40,477.8 v-2.5 M82.95,17.3 v3 M82.95,317.3 v-3 M82.95,317.3 v2.5 M82.95,477.8 v-2.5 M95.50,17.3 v3 M95.50,317.3 v-3 M95.50,317.3 v2.5 M95.50,477.8 v-2.5 M108.05,17.3 v3 M108.05,317.3 v-3 M108.05,317.3 v2.5 M108.05,477.8 v-2.5 M120.60,17.3 v8 M120.60,317.3 v-8 M120.60,317.3 v5 M120.60,477.8 v-5 M133.15,17.3 v3 M133.15,317.3 v-3 M133.15,317.3 v2.5 M133.15,477.8 v-2.5 M145.70,17.3 v3 M145.70,317.3 v-3 M145.70,317.3 v2.5 M145.70,477.8 v-2.5 M158.25,17.3 v3 M158.25,317.3 v-3 M158.25,317.3 v2.5 M158.25,477.8 v-2.5 M170.80,17.3 v3 M170.80,317.3 v-3 M170.80,317.3 v2.5 M170.80,477.8 v-2.5 M183.35,17.3 v3 M183.35,317.3 v-3 M183.35,317.3 v2.5 M183.35,477.8 v-2.5 M195.90,17.3 v3 M195.90,317.3 v-3 M195.90,317.3 v2.5 M195.90,477.8 v-2.5 M208.45,17.3 v3 M208.45,317.3 v-3 M208.45,317.3 v2.5 M208.45,477.8 v-2.5 M221.00,17.3 v3 M221.00,317.3 v-3 M221.00,317.3 v2.5 M221.00,477.8 v-2.5 M233.55,17.3 v3 M233.55,317.3 v-3 M233.55,317.3 v2.5 M233.55,477.8 v-2.5 M246.10,17.3 v8 M246.10,317.3 v-8 M246.10,317.3 v5 M246.10,477.8 v-5 M258.65,17.3 v3 M258.65,317.3 v-3 M258.65,317.3 v2.5 M258.65,477.8 v-2.5 M271.20,17.3 v3 M271.20,317.3 v-3 M271.20,317.3 v2.5 M271.20,477.8 v-2.5 M283.75,17.3 v3 M283.75,317.3 v-3 M283.75,317.3 v2.5 M283.75,477.8 v-2.5 M296.30,17.3 v3 M296.30,317.3 v-3 M296.30,317.3 v2.5 M296.30,477.8 v-2.5 M308.85,17.3 v3 M308.85,317.3 v-3 M308.85,317.3 v2.5 M308.85,477.8 v-2.5 M321.40,17.3 v3 M321.40,317.3 v-3 M321.40,317.3 v2.5 M321.40,477.8 v-2.5 M333.95,17.3 v3 M333.95,317.3 v-3 M333.95,317.3 v2.5 M333.95,477.8 v-2.5 M346.50,17.3 v3 M346.50,317.3 v-3 M346.50,317.3 v2.5 M346.50,477.8 v-2.5 M359.05,17.3 v3 M359.05,317.3 v-3 M359.05,317.3 v2.5 M359.05,477.8 v-2.5 M371.60,17.3 v8 M371.60,317.3 v-8 M371.60,317.3 v5 M371.60,477.8 v-5 M45.3,315.37 h5.6 M371.3,315.37 h-5.6 M45.3,311.72 h5.6 M371.3,311.72 h-5.6 M45.3,308.49 h5.6 M371.3,308.49 h-5.6 M45.3,305.60 h11 M371.3,305.60 h-11 M45.3,286.61 h5.6 M371.3,286.61 h-5.6 M45.3,275.49 h5.6 M371.3,275.49 h-5.6 M45.3,267.61 h5.6 M371.3,267.61 h-5.6 M45.3,261.49 h5.6 M371.3,261.49 h-5.6 M45.3,256.50 h5.6 M371.3,256.50 h-5.6 M45.3,252.27 h5.6 M371.3,252.27 h-5.6 M45.3,248.62 h5.6 M371.3,248.62 h-5.6 M45.3,245.39 h5.6 M371.3,245.39 h-5.6 M45.3,242.50 h11 M371.3,242.50 h-11 M45.3,223.51 h5.6 M371.3,223.51 h-5.6 M45.3,212.39 h5.6 M371.3,212.39 h-5.6 M45.3,204.51 h5.6 M371.3,204.51 h-5.6 M45.3,198.39 h5.6 M371.3,198.39 h-5.6 M45.3,193.40 h5.6 M371.3,193.40 h-5.6 M45.3,189.17 h5.6 M371.3,189.17 h-5.6 M45.3,185.52 h5.6 M371.3,185.52 h-5.6 M45.3,182.29 h5.6 M371.3,182.29 h-5.6 M45.3,179.40 h11 M371.3,179.40 h-11 M45.3,160.41 h5.6 M371.3,160.41 h-5.6 M45.3,149.29 h5.6 M371.3,149.29 h-5.6 M45.3,141.41 h5.6 M371.3,141.41 h-5.6 M45.3,135.29 h5.6 M371.3,135.29 h-5.6 M45.3,130.30 h5.6 M371.3,130.30 h-5.6 M45.3,126.07 h5.6 M371.3,126.07 h-5.6 M45.3,122.42 h5.6 M371.3,122.42 h-5.6 M45.3,119.19 h5.6 M371.3,119.19 h-5.6 M45.3,116.30 h11 M371.3,116.30 h-11 M45.3,97.31 h5.6 M371.3,97.31 h-5.6 M45.3,86.19 h5.6 M371.3,86.19 h-5.6 M45.3,78.31 h5.6 M371.3,78.31 h-5.6 M45.3,72.19 h5.6 M371.3,72.19 h-5.6 M45.3,67.20 h5.6 M371.3,67.20 h-5.6 M45.3,62.97 h5.6 M371.3,62.97 h-5.6 M45.3,59.32 h5.6 M371.3,59.32 h-5.6 M45.3,56.09 h5.6 M371.3,56.09 h-5.6 M45.3,53.20 h11 M371.3,53.20 h-11 M45.3,34.21 h5.6 M371.3,34.21 h-5.6 M45.3,23.09 h5.6 M371.3,23.09 h-5.6 M45.3,458.31 h8 M371.3,458.31 h-8 M45.3,442.31 h5 M371.3,442.31 h-5 M45.3,428.79 h5 M371.3,428.79 h-5 M45.3,417.08 h5 M371.3,417.08 h-5 M45.3,406.74 h5 M371.3,406.74 h-5 M45.3,397.50 h8 M371.3,397.50 h-8 M45.3,389.14 h5 M371.3,389.14 h-5 M45.3,381.51 h5 M371.3,381.51 h-5 M45.3,374.48 h5 M371.3,374.48 h-5 M45.3,367.98 h5 M371.3,367.98 h-5 M45.3,361.93 h5 M371.3,361.93 h-5 M45.3,356.27 h5 M371.3,356.27 h-5 M45.3,350.95 h5 M371.3,350.95 h-5 M45.3,345.93 h5 M371.3,345.93 h-5 M45.3,341.19 h5 M371.3,341.19 h-5 M45.3,336.69 h8 M371.3,336.69 h-8 M45.3,332.41 h5 M371.3,332.41 h-5 M45.3,328.33 h5 M371.3,328.33 h-5 M45.3,324.43 h5 M371.3,324.43 h-5 M45.3,320.70 h5 M371.3,320.70 h-5" fill="none" stroke="#000" stroke-width="1"/>
<text x="51.8" y="13.8" font-size="12">13000 GeV pp</text>
<text x="366.5" y="13.8" font-size="12" text-anchor="end">Z (Drell-Yan)</text>
<text x="86.3" y="41.9" font-size="12.2">Toward region, 10 &lt; </text>
<text x="196.9" y="41.9" font-size="12.2">p</text>
<text x="202.0" y="36.4" font-size="8">Z</text>
<text x="202.0" y="48.6" font-size="8">T</text>
<text x="209.3" y="41.9" font-size="12.25">&lt; 20 [GeV], high thrust</text>
<text x="40.2" y="58.1" font-size="11.2" text-anchor="end">10</text>
<text x="40.2" y="121.4" font-size="11.2" text-anchor="end">1</text>
<text x="21.2" y="184.80" font-size="11" letter-spacing="0.2">10</text>
<line x1="33.5" y1="178.10" x2="36.9" y2="178.10" stroke="#444" stroke-width="0.9"/>
<text x="37.1" y="180.20" font-size="7.6">1</text>
<text x="19.4" y="247.90" font-size="11" letter-spacing="0.2">10</text>
<line x1="31.5" y1="241.20" x2="34.7" y2="241.20" stroke="#444" stroke-width="0.9"/>
<text x="34.1" y="243.30" font-size="7.6">2</text>
<text x="19.0" y="311.00" font-size="11" letter-spacing="0.2">10</text>
<line x1="31.2" y1="304.30" x2="34.9" y2="304.30" stroke="#444" stroke-width="0.9"/>
<text x="34.4" y="306.40" font-size="7.6">3</text>
<text x="38.9" y="340.69" font-size="11.6" text-anchor="end">2</text>
<text x="373.6" y="340.69" font-size="11.6">2</text>
<text x="38.9" y="401.50" font-size="11.6" text-anchor="end">1</text>
<text x="373.6" y="401.50" font-size="11.6">1</text>
<text x="38.9" y="462.31" font-size="11.6" text-anchor="end">0.5</text>
<text x="373.6" y="462.31" font-size="11.6">0.5</text>
<text x="120.60" y="489" font-size="11" text-anchor="middle">1</text>
<text x="246.10" y="489" font-size="11" text-anchor="middle">2</text>
<text x="371.60" y="489" font-size="11" text-anchor="middle">3</text>
<text x="368" y="500.7" font-size="12" text-anchor="end">Mean p<tspan font-size="8" dy="5.5">T</tspan><tspan dy="-5.5">/d&#951; d&#981;</tspan></text>
<text transform="translate(15.0,166.2) rotate(-90)" font-size="11.7">1/N<tspan font-size="8" dy="3.5">ev</tspan><tspan dy="-3.5"> dN</tspan><tspan font-size="8" dy="3.5">ev</tspan><tspan dy="-3.5">/d mean p</tspan><tspan font-size="8.5" dy="5.5" dx="-0.3">T</tspan><tspan dy="-5.5" dx="-1"> [GeV]</tspan><tspan font-size="7.5" dy="-5">-1</tspan></text>
<text transform="translate(19.0,428.0) rotate(-90)" font-size="9.2">Ratio to ATLAS</text>
<text transform="translate(381.2,128.5) rotate(-90)" font-size="9.5" fill="#808080">Rivet 4.1.0, &#8805; 500k events</text>
<text transform="translate(381.6,314.7) rotate(-90)" font-size="9.45" fill="#808080">mcplots.cern.ch [arXiv:2401.10621]</text>
<text x="163.4" y="304.2" font-size="8" fill="#a0a0a0">(ATLAS_2019_I1736531)</text>
<rect x="73.40" y="220.80" width="5.8" height="5.8" fill="#000"/>
<text x="93.9" y="227.00" font-size="9.5">ATLAS</text>
<line x1="64" y1="237.00" x2="88.6" y2="237.00" stroke="#cc3377" stroke-width="1" stroke-dasharray="1.2,1.0"/>
<path d="M76.50,234.30 L79.20,239.20 L73.80,239.20 Z" fill="none" stroke="#cc3377" stroke-width="0.95" stroke-linejoin="miter"/>
<line x1="64" y1="250.00" x2="88.6" y2="250.00" stroke="#339933" stroke-width="1" stroke-dasharray="3,2"/>
<rect x="73.70" y="247.20" width="5.6" height="5.6" fill="none" stroke="#339933" stroke-width="1.1"/>
<line x1="64" y1="263.00" x2="88.6" y2="263.00" stroke="#0000ff" stroke-width="1"/>
<path d="M76.50,259.90 L79.20,265.40 L73.80,265.40 Z" fill="#0000ff"/>
<line x1="64" y1="276.00" x2="88.6" y2="276.00" stroke="#ff0000" stroke-width="1" stroke-dasharray="1.1,0.9"/>
<path d="M76.50,272.70 L78.70,276.00 L76.50,279.30 L74.30,276.00 Z" fill="#ff0000"/>
<text x="93.9" y="240.00" font-size="9.5">Herwig++ Powheg 2.7.1 default</text>
<text x="93.9" y="253.00" font-size="9.5">Herwig 7.2.1 default</text>
<text x="93.9" y="266.00" font-size="9.5">Pythia 8.315 default</text>
<text x="93.9" y="279.00" font-size="9.5">Sherpa 1.4.5 default</text>
</svg></body></html>
